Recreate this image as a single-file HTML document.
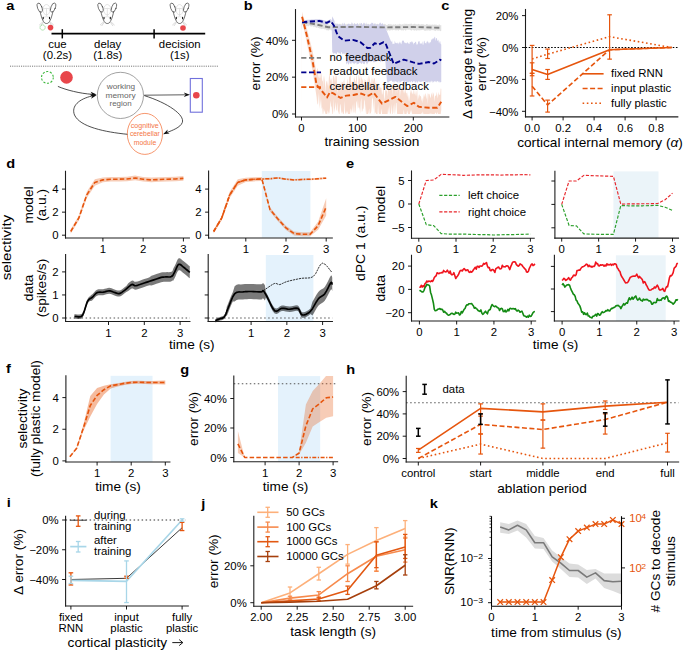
<!DOCTYPE html>
<html><head><meta charset="utf-8"><style>
html,body{margin:0;padding:0;background:#fff;width:685px;height:650px;overflow:hidden}
svg{display:block}
text{font-family:"Liberation Sans",sans-serif}
</style></head><body>
<svg width="685" height="650" viewBox="0 0 685 650">
<rect width="685" height="650" fill="#fff"/>
<text transform="translate(6.2,10.2) scale(1.14,1)" font-size="12.8" font-weight="bold" fill="#000">a</text>
<defs><g id="mouse" fill="none" stroke-linecap="round">
<ellipse cx="0" cy="9.5" rx="3.6" ry="5.2" stroke="#c8c8c8" stroke-width="0.5"/>
<path d="M-3.4,8.6 Q0,7.6 3.4,8.6 M0,8.6 L0,15.5 M-2,16.8 Q0,16 2,16.8" stroke="#c8c8c8" stroke-width="0.5"/>
<ellipse cx="-6.8" cy="7.4" rx="2.2" ry="4.8" transform="rotate(-20 -6.8 7.4)" stroke="#3a3a3a" stroke-width="0.65"/>
<ellipse cx="6.6" cy="7.4" rx="2.2" ry="4.8" transform="rotate(20 6.6 7.4)" stroke="#3a3a3a" stroke-width="0.65"/>
<path d="M-6.4,11.6 C-5.6,14.5 -5,17.5 -3.8,19.8 C-2.6,22.6 -1.4,23.3 0,23.3 C1.4,23.3 2.6,22.6 3.8,19.8 C5,17.5 5.6,14.5 6.4,11.6" stroke="#333" stroke-width="0.7"/>
<path d="M-3.3,17 l0,1.5 M3,17 l0,1.5" stroke="#111" stroke-width="1.1"/>
<path d="M-3.5,21.5 l-3.5,3.2 M-3,22 l-2.5,3.5 M3.5,21.5 l3.5,3.2 M3,22 l2.5,3.5" stroke="#c0c0c0" stroke-width="0.6"/>
</g></defs>
<use href="#mouse" x="46.5" y="0.2"/>
<use href="#mouse" x="107.3" y="0.2"/>
<use href="#mouse" x="179.6" y="0.2"/>
<circle cx="42.6" cy="27.5" r="2.6" fill="none" stroke="#4cbb4c" stroke-width="0.7" stroke-dasharray="1.1 0.9"/>
<circle cx="50.5" cy="27.6" r="2.8" fill="#e8464b"/>
<circle cx="183" cy="28" r="2.8" fill="#e8464b"/>
<line x1="51.50" y1="33.60" x2="205.20" y2="33.60" stroke="#000" stroke-width="1.7" />
<line x1="62.30" y1="29.20" x2="62.30" y2="38.40" stroke="#000" stroke-width="1.5" />
<line x1="154.10" y1="29.20" x2="154.10" y2="38.40" stroke="#000" stroke-width="1.5" />
<text transform="translate(57.40,48.00) scale(1.09,1)" font-size="10.45" text-anchor="middle" fill="#000" font-weight="normal" >cue</text>
<text transform="translate(57.40,59.20) scale(1.09,1)" font-size="10.45" text-anchor="middle" fill="#000" font-weight="normal" >(0.2s)</text>
<text transform="translate(107.70,48.00) scale(1.09,1)" font-size="10.45" text-anchor="middle" fill="#000" font-weight="normal" >delay</text>
<text transform="translate(107.70,59.20) scale(1.09,1)" font-size="10.45" text-anchor="middle" fill="#000" font-weight="normal" >(1.8s)</text>
<text transform="translate(179.70,48.00) scale(1.09,1)" font-size="10.45" text-anchor="middle" fill="#000" font-weight="normal" >decision</text>
<text transform="translate(179.70,59.20) scale(1.09,1)" font-size="10.45" text-anchor="middle" fill="#000" font-weight="normal" >(1s)</text>
<line x1="10.00" y1="66.20" x2="218.00" y2="66.20" stroke="#666" stroke-width="0.9" stroke-dasharray="1.1 1.1" />
<circle cx="47.4" cy="77.4" r="5.9" fill="none" stroke="#3cb83c" stroke-width="1.1" stroke-dasharray="2.1 1.6"/>
<circle cx="66.5" cy="77.4" r="6.3" fill="#e8464b"/>
<circle cx="120.4" cy="95.4" r="23.1" fill="none" stroke="#8a8a8a" stroke-width="0.8"/>
<text transform="translate(121.00,89.10)" font-size="7.94" text-anchor="middle" fill="#666" font-weight="normal"  textLength="28.3" lengthAdjust="spacingAndGlyphs">working</text>
<text transform="translate(120.60,97.80)" font-size="7.94" text-anchor="middle" fill="#666" font-weight="normal"  textLength="30.2" lengthAdjust="spacingAndGlyphs">memory</text>
<text transform="translate(120.60,106.10)" font-size="7.94" text-anchor="middle" fill="#666" font-weight="normal"  textLength="22.1" lengthAdjust="spacingAndGlyphs">region</text>
<ellipse cx="144.9" cy="133.9" rx="17.6" ry="20.5" fill="#fff" stroke="#f58a5c" stroke-width="0.9"/>
<text transform="translate(144.80,127.90)" font-size="7.52" text-anchor="middle" fill="#f47646" font-weight="normal"  textLength="28" lengthAdjust="spacingAndGlyphs">cognitive</text>
<text transform="translate(144.80,135.90)" font-size="7.52" text-anchor="middle" fill="#f47646" font-weight="normal"  textLength="29.8" lengthAdjust="spacingAndGlyphs">cerebellar</text>
<text transform="translate(145.00,144.50)" font-size="7.52" text-anchor="middle" fill="#f47646" font-weight="normal"  textLength="22.5" lengthAdjust="spacingAndGlyphs">module</text>
<rect x="190.3" y="78.5" width="12" height="33.7" fill="none" stroke="#7070dc" stroke-width="1.1"/>
<circle cx="196.3" cy="95.3" r="3.3" fill="#e8464b"/>
<path d="M57.9,86.4 C66,90 80,93.5 92,94.3" fill="none" stroke="#222" stroke-width="0.8"/>
<path d="M96.60,94.60 L90.20,96.27 L92.16,94.16 L90.66,91.69 Z" fill="#111"/>
<path d="M144.2,95.2 L185,94.8" fill="none" stroke="#333" stroke-width="0.8"/>
<path d="M190.00,94.80 L183.80,97.10 L185.54,94.80 L183.80,92.50 Z" fill="#111"/>
<path d="M144.3,95.6 C168,103 185,115 182.3,122.5 C180.5,127.5 172,130.5 167,132.5" fill="none" stroke="#222" stroke-width="0.8"/>
<path d="M163.10,134.20 L167.66,129.41 L167.11,132.24 L169.68,133.54 Z" fill="#111"/>
<path d="M127.4,134.3 C105,132 80,127 74.5,115 C71,106 79,99 92,96" fill="none" stroke="#222" stroke-width="0.8"/>
<path d="M96.60,95.20 L91.06,98.80 L92.24,96.18 L90.05,94.32 Z" fill="#111"/>
<text transform="translate(243.8,10.2) scale(1.14,1)" font-size="12.8" font-weight="bold" fill="#000">b</text>
<line x1="295.50" y1="9.60" x2="295.50" y2="117.00" stroke="#1e1e1e" stroke-width="1.1" stroke-linecap="square"/>
<line x1="295.50" y1="117.00" x2="448.80" y2="117.00" stroke="#1e1e1e" stroke-width="1.1" stroke-linecap="square"/>
<line x1="292.00" y1="114.00" x2="295.50" y2="114.00" stroke="#000" stroke-width="0.9" />
<text transform="translate(288.50,118.20) scale(1.09,1)" font-size="10.45" text-anchor="end" fill="#000" font-weight="normal" >0%</text>
<line x1="292.00" y1="77.15" x2="295.50" y2="77.15" stroke="#000" stroke-width="0.9" />
<text transform="translate(288.50,81.35) scale(1.09,1)" font-size="10.45" text-anchor="end" fill="#000" font-weight="normal" >20%</text>
<line x1="292.00" y1="40.30" x2="295.50" y2="40.30" stroke="#000" stroke-width="0.9" />
<text transform="translate(288.50,44.50) scale(1.09,1)" font-size="10.45" text-anchor="end" fill="#000" font-weight="normal" >40%</text>
<line x1="301.50" y1="117.00" x2="301.50" y2="120.50" stroke="#000" stroke-width="0.9" />
<text transform="translate(301.50,132.00) scale(1.09,1)" font-size="10.45" text-anchor="middle" fill="#000" font-weight="normal" >0</text>
<line x1="357.40" y1="117.00" x2="357.40" y2="120.50" stroke="#000" stroke-width="0.9" />
<text transform="translate(357.40,132.00) scale(1.09,1)" font-size="10.45" text-anchor="middle" fill="#000" font-weight="normal" >100</text>
<line x1="413.30" y1="117.00" x2="413.30" y2="120.50" stroke="#000" stroke-width="0.9" />
<text transform="translate(413.30,132.00) scale(1.09,1)" font-size="10.45" text-anchor="middle" fill="#000" font-weight="normal" >200</text>
<text transform="translate(260.00,63.50) rotate(-90) scale(1.09,1)" font-size="12.54" text-anchor="middle" fill="#000" font-weight="normal" >error (%)</text>
<text transform="translate(371.90,146.00) scale(1.09,1)" font-size="12.54" text-anchor="middle" fill="#000" font-weight="normal" >training session</text>
<polygon points="301.50,25.09 302.06,19.57 302.62,19.59 303.18,19.23 303.74,19.40 304.30,19.81 304.85,20.14 305.41,20.01 305.97,20.39 306.53,19.83 307.09,19.68 307.65,20.25 308.21,20.77 308.77,20.70 309.33,20.49 309.88,20.23 310.44,20.04 311.00,20.71 311.56,20.17 312.12,20.51 312.68,20.87 313.24,21.08 313.80,21.03 314.36,20.85 314.92,21.39 315.48,21.11 316.03,21.58 316.59,22.02 317.15,21.72 317.71,21.61 318.27,22.65 318.83,22.26 319.39,22.38 319.95,21.84 320.51,21.88 321.06,22.83 321.62,22.18 322.18,22.47 322.74,23.37 323.30,23.20 323.86,23.83 324.42,22.93 324.98,23.28 325.54,23.07 326.10,23.34 326.65,23.65 327.21,23.68 327.77,24.05 328.33,24.86 328.89,24.13 329.45,24.99 330.01,24.77 330.57,23.84 331.13,24.91 331.69,24.83 332.25,24.81 332.80,23.65 333.36,24.68 333.92,24.90 334.48,23.69 335.04,24.74 335.60,23.67 336.16,23.92 336.72,23.67 337.28,23.49 337.83,24.03 338.39,23.70 338.95,24.82 339.51,23.73 340.07,24.10 340.63,23.80 341.19,24.69 341.75,23.73 342.31,23.45 342.87,24.73 343.43,24.34 343.98,23.98 344.54,23.58 345.10,24.44 345.66,24.52 346.22,24.41 346.78,23.87 347.34,23.66 347.90,24.18 348.46,24.21 349.01,24.16 349.57,24.22 350.13,24.11 350.69,24.60 351.25,23.98 351.81,23.28 352.37,24.09 352.93,23.59 353.49,24.45 354.05,23.66 354.61,23.56 355.16,23.67 355.72,23.90 356.28,23.94 356.84,23.70 357.40,23.32 357.96,24.43 358.52,24.52 359.08,23.57 359.64,23.33 360.19,23.93 360.75,24.05 361.31,23.66 361.87,24.45 362.43,24.34 362.99,24.46 363.55,23.90 364.11,24.31 364.67,24.44 365.23,23.77 365.79,23.40 366.34,24.38 366.90,23.79 367.46,24.23 368.02,23.59 368.58,24.00 369.14,24.48 369.70,24.56 370.26,24.86 370.82,24.20 371.38,24.35 371.93,24.67 372.49,24.41 373.05,24.47 373.61,23.82 374.17,24.76 374.73,23.52 375.29,24.29 375.85,24.12 376.41,24.32 376.97,23.80 377.52,23.83 378.08,24.23 378.64,24.35 379.20,24.01 379.76,23.82 380.32,24.50 380.88,24.02 381.44,23.70 382.00,24.44 382.56,24.80 383.11,24.80 383.67,24.10 384.23,24.17 384.79,23.77 385.35,23.93 385.91,24.83 386.47,24.90 387.03,24.79 387.59,24.89 388.14,24.12 388.70,23.88 389.26,23.81 389.82,24.76 390.38,23.85 390.94,24.66 391.50,24.49 392.06,24.03 392.62,24.97 393.18,24.95 393.74,23.85 394.29,24.64 394.85,24.54 395.41,24.20 395.97,24.06 396.53,25.03 397.09,24.54 397.65,24.39 398.21,24.31 398.77,24.70 399.32,24.14 399.88,23.59 400.44,24.42 401.00,24.18 401.56,24.80 402.12,24.57 402.68,23.98 403.24,24.79 403.80,23.64 404.36,23.60 404.92,24.79 405.47,23.54 406.03,24.37 406.59,23.77 407.15,23.79 407.71,24.46 408.27,23.89 408.83,23.92 409.39,23.69 409.95,24.48 410.50,23.75 411.06,23.44 411.62,23.85 412.18,24.05 412.74,24.66 413.30,24.10 413.86,24.32 414.42,23.79 414.98,23.87 415.54,24.05 416.10,24.63 416.65,23.96 417.21,24.00 417.77,24.68 418.33,23.64 418.89,24.00 419.45,24.80 420.01,23.63 420.57,24.81 421.13,24.54 421.69,23.98 422.24,24.18 422.80,24.26 423.36,24.13 423.92,24.43 424.48,24.66 425.04,24.87 425.60,25.05 426.16,24.11 426.72,24.06 427.27,24.39 427.83,24.12 428.39,24.69 428.95,24.84 429.51,24.69 430.07,23.98 430.63,25.22 431.19,24.55 431.75,24.95 432.31,24.19 432.87,24.82 433.42,24.86 433.98,24.77 434.54,24.58 435.10,24.26 435.66,24.89 436.22,24.18 436.78,25.28 437.34,25.06 437.90,25.32 438.46,25.32 439.01,24.35 439.57,24.44 440.13,25.26 440.69,25.27 441.25,24.95 441.25,30.74 440.69,30.93 440.13,31.31 439.57,30.34 439.01,30.71 438.46,30.59 437.90,31.06 437.34,30.15 436.78,30.46 436.22,30.09 435.66,31.15 435.10,30.64 434.54,30.39 433.98,30.75 433.42,29.96 432.87,30.11 432.31,30.27 431.75,30.30 431.19,29.97 430.63,30.85 430.07,30.48 429.51,31.02 428.95,29.82 428.39,30.82 427.83,29.68 427.27,31.05 426.72,30.91 426.16,29.84 425.60,30.93 425.04,30.77 424.48,30.74 423.92,30.21 423.36,29.82 422.80,30.08 422.24,29.80 421.69,30.32 421.13,30.10 420.57,30.59 420.01,29.47 419.45,30.54 418.89,30.85 418.33,29.99 417.77,29.89 417.21,30.60 416.65,30.74 416.10,30.44 415.54,29.82 414.98,30.64 414.42,30.59 413.86,29.90 413.30,30.56 412.74,29.32 412.18,30.15 411.62,30.63 411.06,30.20 410.50,30.26 409.95,29.68 409.39,29.45 408.83,30.11 408.27,29.50 407.71,29.50 407.15,29.85 406.59,29.56 406.03,30.47 405.47,30.68 404.92,29.83 404.36,29.72 403.80,30.16 403.24,30.82 402.68,29.81 402.12,30.64 401.56,30.16 401.00,30.31 400.44,29.84 399.88,30.00 399.32,29.84 398.77,30.66 398.21,30.52 397.65,30.22 397.09,29.78 396.53,30.60 395.97,30.34 395.41,30.42 394.85,29.60 394.29,30.15 393.74,29.75 393.18,29.90 392.62,29.90 392.06,30.74 391.50,29.64 390.94,30.01 390.38,30.53 389.82,30.45 389.26,30.87 388.70,29.79 388.14,30.62 387.59,30.93 387.03,29.67 386.47,30.18 385.91,30.63 385.35,31.04 384.79,29.69 384.23,29.71 383.67,29.87 383.11,30.34 382.56,29.60 382.00,30.73 381.44,29.68 380.88,30.03 380.32,30.91 379.76,30.92 379.20,30.71 378.64,30.82 378.08,30.90 377.52,30.93 376.97,30.05 376.41,29.48 375.85,29.89 375.29,30.75 374.73,30.37 374.17,29.94 373.61,29.65 373.05,30.45 372.49,30.46 371.93,30.38 371.38,29.44 370.82,30.11 370.26,29.63 369.70,30.37 369.14,29.69 368.58,30.68 368.02,30.56 367.46,30.22 366.90,29.81 366.34,30.47 365.79,30.00 365.23,30.55 364.67,30.36 364.11,29.24 363.55,30.62 362.99,30.06 362.43,30.04 361.87,30.55 361.31,29.58 360.75,30.00 360.19,29.93 359.64,30.55 359.08,30.48 358.52,29.83 357.96,30.30 357.40,30.37 356.84,30.50 356.28,30.30 355.72,29.96 355.16,30.31 354.61,30.26 354.05,30.29 353.49,29.91 352.93,30.38 352.37,29.44 351.81,30.30 351.25,30.61 350.69,30.29 350.13,29.75 349.57,29.85 349.01,30.09 348.46,30.11 347.90,29.59 347.34,29.34 346.78,30.40 346.22,30.08 345.66,29.57 345.10,30.01 344.54,30.25 343.98,29.75 343.43,30.09 342.87,29.93 342.31,29.70 341.75,30.00 341.19,30.50 340.63,30.45 340.07,30.64 339.51,30.70 338.95,30.61 338.39,30.06 337.83,29.67 337.28,30.15 336.72,29.53 336.16,29.43 335.60,29.62 335.04,30.31 334.48,29.73 333.92,29.78 333.36,29.47 332.80,29.96 332.25,29.59 331.69,30.66 331.13,29.84 330.57,29.59 330.01,30.41 329.45,29.52 328.89,30.10 328.33,30.79 327.77,30.43 327.21,30.12 326.65,30.45 326.10,29.48 325.54,29.11 324.98,29.95 324.42,28.71 323.86,28.49 323.30,28.94 322.74,29.00 322.18,28.58 321.62,28.67 321.06,29.22 320.51,28.37 319.95,28.74 319.39,28.22 318.83,28.01 318.27,27.93 317.71,27.55 317.15,27.27 316.59,28.27 316.03,27.08 315.48,27.14 314.92,27.19 314.36,26.51 313.80,27.21 313.24,26.52 312.68,25.96 312.12,26.39 311.56,26.39 311.00,26.36 310.44,26.53 309.88,25.62 309.33,25.62 308.77,25.68 308.21,26.74 307.65,25.55 307.09,26.26 306.53,26.25 305.97,25.63 305.41,25.62 304.85,26.03 304.30,25.65 303.74,25.95 303.18,25.21 302.62,24.90 302.06,24.73 301.50,30.36" fill="#c8c8c8" fill-opacity="0.55" stroke="none"/>
<polygon points="301.50,58.73 302.06,20.40 302.62,20.35 303.18,20.30 303.74,20.24 304.30,20.19 304.85,20.14 305.41,20.09 305.97,20.03 306.53,19.98 307.09,19.93 307.65,19.87 308.21,19.82 308.77,19.77 309.33,19.72 309.88,19.66 310.44,19.63 311.00,19.60 311.56,19.57 312.12,19.53 312.68,19.50 313.24,19.47 313.80,19.44 314.36,19.40 314.92,19.37 315.48,19.34 316.03,19.31 316.59,19.27 317.15,19.24 317.71,19.21 318.27,19.18 318.83,19.14 319.39,19.11 319.95,19.25 320.51,19.39 321.06,19.54 321.62,19.68 322.18,19.82 322.74,19.96 323.30,20.10 323.86,20.25 324.42,20.39 324.98,20.53 325.54,20.67 326.10,20.81 326.65,20.95 327.21,20.69 327.77,20.43 328.33,20.16 328.89,19.90 329.45,19.64 330.01,19.37 330.57,19.11 331.13,19.88 331.69,20.65 332.25,16.35 332.80,17.45 333.36,18.56 333.92,19.66 334.48,20.77 335.04,26.29 335.60,23.24 336.16,23.14 336.72,25.38 337.28,24.15 337.83,23.76 338.39,24.71 338.95,26.01 339.51,23.38 340.07,24.54 340.63,25.25 341.19,25.19 341.75,25.56 342.31,22.43 342.87,24.74 343.43,26.37 343.98,22.31 344.54,23.73 345.10,23.82 345.66,25.55 346.22,26.10 346.78,26.40 347.34,24.19 347.90,24.55 348.46,23.54 349.01,23.81 349.57,23.68 350.13,26.23 350.69,23.69 351.25,25.25 351.81,21.88 352.37,23.23 352.93,25.39 353.49,26.28 354.05,23.38 354.61,22.91 355.16,24.88 355.72,23.79 356.28,24.63 356.84,23.84 357.40,22.80 357.96,24.48 358.52,24.44 359.08,26.07 359.64,26.01 360.19,26.36 360.75,22.76 361.31,23.21 361.87,23.08 362.43,25.42 362.99,24.63 363.55,22.52 364.11,23.41 364.67,22.60 365.23,26.25 365.79,25.69 366.34,21.94 366.90,26.43 367.46,25.52 368.02,23.66 368.58,24.85 369.14,23.89 369.70,26.08 370.26,23.28 370.82,24.40 371.38,22.96 371.93,22.39 372.49,23.19 373.05,22.43 373.61,26.02 374.17,24.05 374.73,23.58 375.29,22.89 375.85,26.42 376.41,24.38 376.97,24.69 377.52,24.26 378.08,24.01 378.64,26.35 379.20,22.39 379.76,24.07 380.32,22.29 380.88,23.52 381.44,25.10 382.00,23.16 382.56,23.26 383.11,24.22 383.67,26.24 384.23,24.76 384.79,25.42 385.35,27.40 385.91,28.78 386.47,30.17 387.03,31.55 387.59,32.93 388.14,34.31 388.70,35.69 389.26,37.08 389.82,38.46 390.38,39.84 390.94,41.22 391.50,42.11 392.06,40.36 392.62,44.25 393.18,43.70 393.74,43.87 394.29,44.23 394.85,40.57 395.41,43.08 395.97,42.65 396.53,43.09 397.09,43.68 397.65,42.43 398.21,42.78 398.77,44.62 399.32,41.18 399.88,43.61 400.44,42.05 401.00,44.46 401.56,43.39 402.12,40.41 402.68,40.73 403.24,40.85 403.80,40.44 404.36,43.32 404.92,42.05 405.47,43.19 406.03,42.96 406.59,43.50 407.15,42.02 407.71,42.78 408.27,42.94 408.83,43.97 409.39,43.89 409.95,41.81 410.50,41.96 411.06,42.75 411.62,41.35 412.18,41.48 412.74,42.33 413.30,44.64 413.86,42.64 414.42,43.29 414.98,42.45 415.54,41.55 416.10,42.36 416.65,44.67 417.21,44.54 417.77,44.00 418.33,41.08 418.89,41.85 419.45,40.79 420.01,44.13 420.57,43.13 421.13,43.30 421.69,43.92 422.24,40.88 422.80,44.68 423.36,44.63 423.92,40.89 424.48,40.71 425.04,43.51 425.60,42.72 426.16,43.69 426.72,41.40 427.27,42.03 427.83,40.55 428.39,43.77 428.95,41.53 429.51,43.74 430.07,41.70 430.63,42.82 431.19,40.33 431.75,39.14 432.31,38.22 432.87,39.66 433.42,37.85 433.98,39.09 434.54,36.77 435.10,37.08 435.66,41.05 436.22,37.92 436.78,38.07 437.34,40.53 437.90,40.98 438.46,39.47 439.01,43.85 439.57,41.76 440.13,40.81 440.69,44.02 441.25,44.50 441.25,82.00 440.69,82.28 440.13,82.31 439.57,82.53 439.01,80.84 438.46,82.60 437.90,81.32 437.34,80.64 436.78,82.57 436.22,81.07 435.66,82.13 435.10,80.56 434.54,81.61 433.98,81.42 433.42,82.02 432.87,82.89 432.31,81.20 431.75,80.47 431.19,81.95 430.63,82.52 430.07,80.72 429.51,82.50 428.95,82.80 428.39,81.04 427.83,82.98 427.27,81.64 426.72,82.15 426.16,82.19 425.60,81.29 425.04,82.68 424.48,81.10 423.92,81.30 423.36,81.81 422.80,81.28 422.24,81.57 421.69,81.47 421.13,82.05 420.57,82.35 420.01,81.27 419.45,81.74 418.89,82.03 418.33,80.48 417.77,82.80 417.21,82.66 416.65,80.67 416.10,82.86 415.54,82.31 414.98,82.79 414.42,80.90 413.86,80.81 413.30,81.62 412.74,82.18 412.18,82.50 411.62,80.77 411.06,81.48 410.50,82.17 409.95,82.69 409.39,81.21 408.83,81.64 408.27,82.21 407.71,82.57 407.15,81.58 406.59,81.85 406.03,82.51 405.47,80.89 404.92,81.78 404.36,82.41 403.80,82.80 403.24,80.67 402.68,80.65 402.12,81.02 401.56,80.98 401.00,82.34 400.44,82.48 399.88,80.85 399.32,82.90 398.77,82.78 398.21,80.61 397.65,82.54 397.09,82.38 396.53,81.41 395.97,81.70 395.41,81.13 394.85,80.53 394.29,82.74 393.74,82.48 393.18,81.03 392.62,82.15 392.06,80.90 391.50,80.53 390.94,80.59 390.38,81.03 389.82,81.05 389.26,81.66 388.70,82.13 388.14,82.58 387.59,82.56 387.03,82.00 386.47,75.86 385.91,68.49 385.35,61.12 384.79,60.17 384.23,60.00 383.67,60.82 383.11,60.72 382.56,61.26 382.00,62.29 381.44,60.46 380.88,61.00 380.32,62.40 379.76,61.01 379.20,60.99 378.64,59.67 378.08,59.82 377.52,59.80 376.97,62.08 376.41,60.95 375.85,62.08 375.29,61.94 374.73,62.35 374.17,62.08 373.61,62.45 373.05,61.14 372.49,60.32 371.93,62.10 371.38,61.47 370.82,60.52 370.26,62.40 369.70,60.96 369.14,62.19 368.58,62.18 368.02,61.96 367.46,63.66 366.90,64.63 366.34,63.02 365.79,62.01 365.23,61.93 364.67,64.04 364.11,64.30 363.55,63.72 362.99,63.71 362.43,61.96 361.87,63.55 361.31,64.07 360.75,63.34 360.19,62.50 359.64,62.49 359.08,62.95 358.52,63.85 357.96,64.18 357.40,63.84 356.84,64.75 356.28,61.90 355.72,63.47 355.16,62.26 354.61,64.55 354.05,63.07 353.49,63.73 352.93,63.00 352.37,62.00 351.81,64.45 351.25,61.87 350.69,64.37 350.13,63.17 349.57,61.98 349.01,64.30 348.46,64.53 347.90,63.63 347.34,62.09 346.78,64.56 346.22,63.21 345.66,54.65 345.10,52.03 344.54,54.31 343.98,54.34 343.43,53.42 342.87,53.22 342.31,54.51 341.75,52.06 341.19,52.29 340.63,54.05 340.07,54.41 339.51,52.53 338.95,53.81 338.39,52.47 337.83,52.39 337.28,51.95 336.72,54.34 336.16,54.21 335.60,53.34 335.04,53.55 334.48,52.85 333.92,54.43 333.36,53.19 332.80,52.12 332.25,53.57 331.69,24.33 331.13,23.56 330.57,22.80 330.01,23.06 329.45,23.32 328.89,23.59 328.33,23.85 327.77,24.11 327.21,24.38 326.65,24.64 326.10,24.50 325.54,24.36 324.98,24.21 324.42,24.07 323.86,23.93 323.30,23.79 322.74,23.65 322.18,23.50 321.62,23.36 321.06,23.22 320.51,23.08 319.95,22.94 319.39,22.80 318.83,22.83 318.27,22.86 317.71,22.89 317.15,22.93 316.59,22.96 316.03,22.99 315.48,23.02 314.92,23.06 314.36,23.09 313.80,23.12 313.24,23.15 312.68,23.19 312.12,23.22 311.56,23.25 311.00,23.28 310.44,23.32 309.88,23.35 309.33,23.40 308.77,23.45 308.21,23.51 307.65,23.56 307.09,23.61 306.53,23.66 305.97,23.72 305.41,23.77 304.85,23.82 304.30,23.88 303.74,23.93 303.18,23.98 302.62,24.03 302.06,24.09 301.50,62.41" fill="#d0d0ea" fill-opacity="1.0" stroke="none"/>
<polygon points="301.50,97.23 302.06,11.83 302.62,13.77 303.18,15.70 303.74,17.64 304.30,19.57 304.85,21.51 305.41,23.44 305.97,25.38 306.53,27.31 307.09,29.25 307.65,31.44 308.21,33.63 308.77,35.82 309.33,38.02 309.88,40.21 310.44,42.40 311.00,44.60 311.56,46.79 312.12,48.98 312.68,51.44 313.24,54.52 313.80,57.60 314.36,60.68 314.92,63.76 315.48,66.84 316.03,69.92 316.59,73.00 317.15,68.82 317.71,68.26 318.27,75.00 318.83,77.43 319.39,78.31 319.95,72.55 320.51,78.78 321.06,71.73 321.62,75.37 322.18,81.76 322.74,80.57 323.30,75.15 323.86,89.02 324.42,75.16 324.98,81.38 325.54,93.17 326.10,81.56 326.65,80.94 327.21,86.12 327.77,80.37 328.33,88.82 328.89,77.44 329.45,72.95 330.01,77.43 330.57,81.28 331.13,77.95 331.69,80.30 332.25,89.22 332.80,78.64 333.36,76.10 333.92,75.71 334.48,78.44 335.04,82.16 335.60,75.02 336.16,76.51 336.72,75.68 337.28,93.48 337.83,89.56 338.39,83.76 338.95,85.66 339.51,87.54 340.07,79.66 340.63,91.91 341.19,80.82 341.75,84.86 342.31,81.97 342.87,82.18 343.43,79.83 343.98,90.19 344.54,76.10 345.10,89.71 345.66,86.38 346.22,82.06 346.78,91.29 347.34,78.28 347.90,80.85 348.46,90.91 349.01,77.53 349.57,76.61 350.13,75.93 350.69,75.37 351.25,82.53 351.81,85.06 352.37,80.78 352.93,83.58 353.49,82.93 354.05,76.33 354.61,78.92 355.16,80.23 355.72,83.33 356.28,74.50 356.84,77.19 357.40,88.85 357.96,89.07 358.52,74.68 359.08,75.34 359.64,79.83 360.19,74.83 360.75,88.49 361.31,76.13 361.87,78.04 362.43,81.23 362.99,78.25 363.55,89.95 364.11,84.98 364.67,78.63 365.23,80.11 365.79,80.49 366.34,86.06 366.90,84.81 367.46,77.20 368.02,84.08 368.58,76.32 369.14,75.68 369.70,78.92 370.26,83.59 370.82,82.77 371.38,76.54 371.93,89.53 372.49,80.07 373.05,77.33 373.61,82.23 374.17,78.47 374.73,77.80 375.29,82.83 375.85,83.43 376.41,89.92 376.97,79.76 377.52,90.38 378.08,82.33 378.64,84.71 379.20,85.32 379.76,87.81 380.32,87.46 380.88,87.83 381.44,87.70 382.00,95.02 382.56,93.41 383.11,89.44 383.67,89.72 384.23,100.82 384.79,96.89 385.35,89.35 385.91,91.02 386.47,90.98 387.03,89.21 387.59,96.52 388.14,88.03 388.70,85.84 389.26,92.19 389.82,84.84 390.38,91.03 390.94,85.58 391.50,86.18 392.06,83.96 392.62,95.47 393.18,83.69 393.74,83.53 394.29,89.36 394.85,85.09 395.41,83.69 395.97,94.56 396.53,83.71 397.09,93.78 397.65,83.60 398.21,87.50 398.77,87.75 399.32,84.49 399.88,97.95 400.44,91.40 401.00,89.21 401.56,86.96 402.12,86.88 402.68,88.37 403.24,93.46 403.80,87.44 404.36,94.10 404.92,90.37 405.47,90.11 406.03,93.29 406.59,92.40 407.15,97.50 407.71,91.68 408.27,101.79 408.83,94.22 409.39,101.95 409.95,95.05 410.50,89.57 411.06,93.66 411.62,89.57 412.18,93.16 412.74,94.41 413.30,88.18 413.86,94.53 414.42,93.93 414.98,89.69 415.54,94.05 416.10,96.45 416.65,91.52 417.21,89.41 417.77,101.28 418.33,94.14 418.89,99.17 419.45,93.92 420.01,95.65 420.57,96.07 421.13,97.01 421.69,101.57 422.24,97.44 422.80,103.34 423.36,97.73 423.92,94.09 424.48,97.17 425.04,93.35 425.60,94.12 426.16,99.27 426.72,96.42 427.27,92.56 427.83,104.86 428.39,94.15 428.95,93.45 429.51,94.32 430.07,96.55 430.63,98.62 431.19,94.80 431.75,92.46 432.31,97.35 432.87,91.90 433.42,93.32 433.98,95.10 434.54,102.03 435.10,95.05 435.66,96.26 436.22,95.18 436.78,91.85 437.34,95.82 437.90,98.51 438.46,91.64 439.01,94.28 439.57,94.78 440.13,95.26 440.69,88.58 441.25,88.77 441.25,109.91 440.69,114.00 440.13,114.00 439.57,114.00 439.01,114.00 438.46,114.00 437.90,114.00 437.34,112.05 436.78,114.00 436.22,114.00 435.66,112.34 435.10,113.61 434.54,114.00 433.98,114.00 433.42,114.00 432.87,114.00 432.31,114.00 431.75,113.42 431.19,114.00 430.63,114.00 430.07,113.03 429.51,114.00 428.95,114.00 428.39,114.00 427.83,114.00 427.27,114.00 426.72,114.00 426.16,114.00 425.60,114.00 425.04,114.00 424.48,114.00 423.92,114.00 423.36,114.00 422.80,111.29 422.24,114.00 421.69,113.03 421.13,114.00 420.57,114.00 420.01,114.00 419.45,114.00 418.89,114.00 418.33,114.00 417.77,114.00 417.21,114.00 416.65,114.00 416.10,114.00 415.54,114.00 414.98,114.00 414.42,114.00 413.86,114.00 413.30,114.00 412.74,114.00 412.18,114.00 411.62,109.43 411.06,114.00 410.50,110.01 409.95,114.00 409.39,114.00 408.83,114.00 408.27,114.00 407.71,113.01 407.15,110.27 406.59,114.00 406.03,114.00 405.47,114.00 404.92,114.00 404.36,114.00 403.80,109.32 403.24,114.00 402.68,114.00 402.12,114.00 401.56,114.00 401.00,114.00 400.44,114.00 399.88,114.00 399.32,114.00 398.77,114.00 398.21,114.00 397.65,114.00 397.09,113.64 396.53,103.13 395.97,102.78 395.41,114.00 394.85,102.72 394.29,114.00 393.74,112.63 393.18,104.44 392.62,114.00 392.06,114.00 391.50,103.66 390.94,112.97 390.38,114.00 389.82,113.84 389.26,104.51 388.70,114.00 388.14,106.95 387.59,114.00 387.03,114.00 386.47,114.00 385.91,114.00 385.35,114.00 384.79,114.00 384.23,114.00 383.67,114.00 383.11,114.00 382.56,114.00 382.00,114.00 381.44,108.33 380.88,114.00 380.32,114.00 379.76,114.00 379.20,114.00 378.64,112.77 378.08,103.46 377.52,114.00 376.97,114.00 376.41,114.00 375.85,113.54 375.29,111.91 374.73,114.00 374.17,98.38 373.61,111.31 373.05,100.32 372.49,97.12 371.93,100.28 371.38,110.84 370.82,113.30 370.26,113.42 369.70,114.00 369.14,108.27 368.58,112.79 368.02,114.00 367.46,114.00 366.90,114.00 366.34,114.00 365.79,103.76 365.23,114.00 364.67,99.32 364.11,101.26 363.55,109.61 362.99,108.08 362.43,110.98 361.87,112.06 361.31,97.75 360.75,102.21 360.19,114.00 359.64,108.89 359.08,107.08 358.52,108.17 357.96,99.31 357.40,109.61 356.84,100.65 356.28,102.50 355.72,110.38 355.16,114.00 354.61,111.83 354.05,102.33 353.49,111.48 352.93,114.00 352.37,104.08 351.81,114.00 351.25,109.70 350.69,108.20 350.13,114.00 349.57,114.00 349.01,114.00 348.46,114.00 347.90,114.00 347.34,111.00 346.78,114.00 346.22,110.97 345.66,113.61 345.10,113.90 344.54,100.40 343.98,113.36 343.43,114.00 342.87,114.00 342.31,111.24 341.75,113.65 341.19,111.09 340.63,105.59 340.07,103.87 339.51,114.00 338.95,114.00 338.39,111.88 337.83,110.49 337.28,102.00 336.72,109.86 336.16,110.88 335.60,101.75 335.04,107.44 334.48,110.37 333.92,113.26 333.36,98.22 332.80,114.00 332.25,114.00 331.69,107.50 331.13,105.98 330.57,100.43 330.01,107.70 329.45,112.53 328.89,114.00 328.33,112.20 327.77,110.22 327.21,114.00 326.65,114.00 326.10,114.00 325.54,114.00 324.98,112.03 324.42,111.12 323.86,108.62 323.30,113.76 322.74,114.00 322.18,106.88 321.62,108.94 321.06,98.79 320.51,106.25 319.95,94.08 319.39,109.05 318.83,102.87 318.27,92.56 317.71,104.80 317.15,103.85 316.59,97.14 316.03,93.51 315.48,89.87 314.92,86.24 314.36,82.61 313.80,78.97 313.24,75.34 312.68,71.71 312.12,68.70 311.56,65.95 311.00,63.20 310.44,60.46 309.88,57.71 309.33,54.97 308.77,52.22 308.21,49.48 307.65,46.73 307.09,43.98 306.53,41.50 305.97,39.01 305.41,36.52 304.85,34.04 304.30,31.55 303.74,29.06 303.18,26.57 302.62,24.09 302.06,21.60 301.50,106.45" fill="#f8dccf" fill-opacity="1.0" stroke="none"/>
<polyline points="302.06,22.24 312.68,23.72 328.33,27.22 357.40,26.85 385.35,27.40 413.30,27.03 441.25,27.77" fill="none" stroke="#7f7f7f" stroke-width="1.9" stroke-dasharray="5.2 2.6" stroke-linejoin="round" />
<polyline points="302.06,22.24 309.88,21.51 319.39,20.95 326.65,22.80 330.57,20.95 333.92,25.56 337.83,35.88 343.98,40.67 352.93,39.93 360.19,41.96 367.46,48.04 370.26,47.85 374.73,43.25 378.64,44.54 383.67,42.14 385.35,42.88 393.74,63.88 403.80,59.65 413.30,62.41 418.89,63.88 428.95,62.04 433.98,63.52 440.13,59.65 441.25,60.57" fill="none" stroke="#00008b" stroke-width="1.9" stroke-dasharray="5.2 2.6" stroke-linejoin="round" />
<polyline points="302.06,16.72 307.09,36.61 312.51,60.57 316.59,85.07 319.95,88.57 324.20,93.92 327.10,97.42 330.01,92.07 333.36,93.36 340.63,97.97 346.22,95.58 353.49,95.02 360.19,93.36 361.31,93.73 366.90,95.94 368.58,95.58 373.61,92.63 382.00,103.68 395.41,96.86 407.15,106.08 413.86,102.76 418.89,106.81 428.95,107.74 437.34,107.74 441.25,101.84" fill="none" stroke="#e6550d" stroke-width="1.9" stroke-dasharray="5.2 2.6" stroke-linejoin="round" />
<line x1="301.20" y1="57.90" x2="321.00" y2="57.90" stroke="#7f7f7f" stroke-width="1.9" stroke-dasharray="5.2 2.6" />
<line x1="301.20" y1="72.40" x2="321.00" y2="72.40" stroke="#00008b" stroke-width="1.9" stroke-dasharray="5.2 2.6" />
<line x1="301.20" y1="87.10" x2="321.00" y2="87.10" stroke="#e6550d" stroke-width="1.9" stroke-dasharray="5.2 2.6" />
<text transform="translate(329.50,61.10) scale(1.09,1)" font-size="10.45" text-anchor="start" fill="#000" font-weight="normal" >no feedback</text>
<text transform="translate(329.50,75.40) scale(1.09,1)" font-size="10.45" text-anchor="start" fill="#000" font-weight="normal" >readout feedback</text>
<text transform="translate(329.50,90.10) scale(1.09,1)" font-size="10.45" text-anchor="start" fill="#000" font-weight="normal" >cerebellar feedback</text>
<text transform="translate(441.2,10.2) scale(1.14,1)" font-size="12.8" font-weight="bold" fill="#000">c</text>
<line x1="525.50" y1="47.50" x2="678.40" y2="47.50" stroke="#000" stroke-width="1.2" stroke-dasharray="1.6 1.6" />
<line x1="525.50" y1="9.50" x2="525.50" y2="116.90" stroke="#1e1e1e" stroke-width="1.1" stroke-linecap="square"/>
<line x1="525.50" y1="116.90" x2="677.80" y2="116.90" stroke="#1e1e1e" stroke-width="1.1" stroke-linecap="square"/>
<line x1="522.00" y1="15.60" x2="525.50" y2="15.60" stroke="#000" stroke-width="0.9" />
<text transform="translate(518.50,19.80) scale(1.09,1)" font-size="10.45" text-anchor="end" fill="#000" font-weight="normal" >20%</text>
<line x1="522.00" y1="47.50" x2="525.50" y2="47.50" stroke="#000" stroke-width="0.9" />
<text transform="translate(518.50,51.70) scale(1.09,1)" font-size="10.45" text-anchor="end" fill="#000" font-weight="normal" >0%</text>
<line x1="522.00" y1="79.40" x2="525.50" y2="79.40" stroke="#000" stroke-width="0.9" />
<text transform="translate(518.50,83.60) scale(1.09,1)" font-size="10.45" text-anchor="end" fill="#000" font-weight="normal" >−20%</text>
<line x1="522.00" y1="111.30" x2="525.50" y2="111.30" stroke="#000" stroke-width="0.9" />
<text transform="translate(518.50,115.50) scale(1.09,1)" font-size="10.45" text-anchor="end" fill="#000" font-weight="normal" >−40%</text>
<line x1="532.10" y1="116.90" x2="532.10" y2="120.40" stroke="#000" stroke-width="0.9" />
<text transform="translate(532.10,131.90) scale(1.09,1)" font-size="10.45" text-anchor="middle" fill="#000" font-weight="normal" >0.0</text>
<line x1="563.10" y1="116.90" x2="563.10" y2="120.40" stroke="#000" stroke-width="0.9" />
<text transform="translate(563.10,131.90) scale(1.09,1)" font-size="10.45" text-anchor="middle" fill="#000" font-weight="normal" >0.2</text>
<line x1="594.10" y1="116.90" x2="594.10" y2="120.40" stroke="#000" stroke-width="0.9" />
<text transform="translate(594.10,131.90) scale(1.09,1)" font-size="10.45" text-anchor="middle" fill="#000" font-weight="normal" >0.4</text>
<line x1="625.10" y1="116.90" x2="625.10" y2="120.40" stroke="#000" stroke-width="0.9" />
<text transform="translate(625.10,131.90) scale(1.09,1)" font-size="10.45" text-anchor="middle" fill="#000" font-weight="normal" >0.6</text>
<line x1="656.10" y1="116.90" x2="656.10" y2="120.40" stroke="#000" stroke-width="0.9" />
<text transform="translate(656.10,131.90) scale(1.09,1)" font-size="10.45" text-anchor="middle" fill="#000" font-weight="normal" >0.8</text>
<text transform="translate(600.00,146.60) scale(1.09,1)" font-size="12.54" text-anchor="middle" fill="#000" font-weight="normal" >cortical internal memory (<tspan font-style="italic">α</tspan>)</text>
<text transform="translate(471.60,64.00) rotate(-90) scale(1.09,1)" font-size="12.54" text-anchor="middle" fill="#000" font-weight="normal" >Δ average training</text>
<text transform="translate(486.30,64.00) rotate(-90) scale(1.09,1)" font-size="12.54" text-anchor="middle" fill="#000" font-weight="normal" >error (%)</text>
<polyline points="532.10,69.51 547.60,74.61 609.60,49.73 671.60,47.50" fill="none" stroke="#e6550d" stroke-width="1.6" stroke-linejoin="round" />
<polyline points="532.10,86.26 547.60,104.92 609.60,49.73 671.60,47.50" fill="none" stroke="#e6550d" stroke-width="1.6" stroke-dasharray="5 2.5" stroke-linejoin="round" />
<polyline points="532.10,58.98 547.60,54.20 609.60,36.65 671.60,47.50" fill="none" stroke="#e6550d" stroke-width="1.6" stroke-dasharray="1.6 2.6" stroke-linejoin="round" />
<line x1="532.10" y1="45.43" x2="532.10" y2="73.34" stroke="#e6550d" stroke-width="1.2" />
<line x1="529.80" y1="45.43" x2="534.40" y2="45.43" stroke="#e6550d" stroke-width="1.2" />
<line x1="529.80" y1="73.34" x2="534.40" y2="73.34" stroke="#e6550d" stroke-width="1.2" />
<line x1="532.10" y1="62.81" x2="532.10" y2="75.73" stroke="#e6550d" stroke-width="1.2" />
<line x1="529.80" y1="62.81" x2="534.40" y2="62.81" stroke="#e6550d" stroke-width="1.2" />
<line x1="529.80" y1="75.73" x2="534.40" y2="75.73" stroke="#e6550d" stroke-width="1.2" />
<line x1="532.10" y1="73.34" x2="532.10" y2="95.99" stroke="#e6550d" stroke-width="1.2" />
<line x1="529.80" y1="73.34" x2="534.40" y2="73.34" stroke="#e6550d" stroke-width="1.2" />
<line x1="529.80" y1="95.99" x2="534.40" y2="95.99" stroke="#e6550d" stroke-width="1.2" />
<line x1="547.60" y1="49.09" x2="547.60" y2="58.51" stroke="#e6550d" stroke-width="1.2" />
<line x1="545.30" y1="49.09" x2="549.90" y2="49.09" stroke="#e6550d" stroke-width="1.2" />
<line x1="545.30" y1="58.51" x2="549.90" y2="58.51" stroke="#e6550d" stroke-width="1.2" />
<line x1="547.60" y1="69.51" x2="547.60" y2="79.40" stroke="#e6550d" stroke-width="1.2" />
<line x1="545.30" y1="69.51" x2="549.90" y2="69.51" stroke="#e6550d" stroke-width="1.2" />
<line x1="545.30" y1="79.40" x2="549.90" y2="79.40" stroke="#e6550d" stroke-width="1.2" />
<line x1="547.60" y1="100.13" x2="547.60" y2="112.10" stroke="#e6550d" stroke-width="1.2" />
<line x1="545.30" y1="100.13" x2="549.90" y2="100.13" stroke="#e6550d" stroke-width="1.2" />
<line x1="545.30" y1="112.10" x2="549.90" y2="112.10" stroke="#e6550d" stroke-width="1.2" />
<line x1="609.60" y1="14.80" x2="609.60" y2="59.14" stroke="#e6550d" stroke-width="1.2" />
<line x1="607.30" y1="14.80" x2="611.90" y2="14.80" stroke="#e6550d" stroke-width="1.2" />
<line x1="607.30" y1="59.14" x2="611.90" y2="59.14" stroke="#e6550d" stroke-width="1.2" />
<line x1="582.60" y1="73.80" x2="603.60" y2="73.80" stroke="#e6550d" stroke-width="1.6" />
<line x1="582.60" y1="88.50" x2="603.60" y2="88.50" stroke="#e6550d" stroke-width="1.6" stroke-dasharray="5 2.5" />
<line x1="582.60" y1="103.30" x2="603.60" y2="103.30" stroke="#e6550d" stroke-width="1.6" stroke-dasharray="1.6 2.6" />
<text transform="translate(611.10,77.40) scale(1.09,1)" font-size="10.45" text-anchor="start" fill="#000" font-weight="normal" >fixed RNN</text>
<text transform="translate(611.10,92.10) scale(1.09,1)" font-size="10.45" text-anchor="start" fill="#000" font-weight="normal" >input plastic</text>
<text transform="translate(611.10,106.90) scale(1.09,1)" font-size="10.45" text-anchor="start" fill="#000" font-weight="normal" >fully plastic</text>
<text transform="translate(6.2,168.4) scale(1.14,1)" font-size="12.8" font-weight="bold" fill="#000">d</text>
<polygon points="70.70,229.21 78.75,215.84 86.80,191.64 94.85,179.19 102.90,177.57 110.95,177.00 119.00,176.88 127.05,176.65 135.10,175.62 143.15,177.00 151.20,177.57 159.25,177.23 167.30,176.88 175.35,176.65 183.40,176.08 183.40,180.69 175.35,181.26 167.30,181.49 159.25,181.84 151.20,182.19 143.15,181.61 135.10,180.23 127.05,181.26 119.00,181.49 110.95,181.61 102.90,182.19 94.85,185.64 86.80,198.09 78.75,220.45 70.70,233.82" fill="#e6550d" fill-opacity="0.3" stroke="none"/>
<polyline points="70.70,231.51 78.75,218.14 86.80,194.86 94.85,182.42 102.90,179.88 110.95,179.30 119.00,179.19 127.05,178.96 135.10,177.92 143.15,179.30 151.20,179.88 159.25,179.53 167.30,179.19 175.35,178.96 183.40,178.38" fill="none" stroke="#e6550d" stroke-width="1.6" stroke-dasharray="4.5 2.2" stroke-linejoin="round" />
<line x1="65.50" y1="171.30" x2="65.50" y2="238.00" stroke="#1e1e1e" stroke-width="1.1" stroke-linecap="square"/>
<line x1="65.50" y1="238.00" x2="189.40" y2="238.00" stroke="#1e1e1e" stroke-width="1.1" stroke-linecap="square"/>
<line x1="62.00" y1="235.20" x2="65.50" y2="235.20" stroke="#000" stroke-width="0.9" />
<text transform="translate(58.50,239.40) scale(1.09,1)" font-size="10.45" text-anchor="end" fill="#000" font-weight="normal" >0</text>
<line x1="62.00" y1="212.15" x2="65.50" y2="212.15" stroke="#000" stroke-width="0.9" />
<text transform="translate(58.50,216.35) scale(1.09,1)" font-size="10.45" text-anchor="end" fill="#000" font-weight="normal" >2</text>
<line x1="62.00" y1="189.10" x2="65.50" y2="189.10" stroke="#000" stroke-width="0.9" />
<text transform="translate(58.50,193.30) scale(1.09,1)" font-size="10.45" text-anchor="end" fill="#000" font-weight="normal" >4</text>
<line x1="102.90" y1="238.00" x2="102.90" y2="241.50" stroke="#000" stroke-width="0.9" />
<text transform="translate(102.90,253.00) scale(1.09,1)" font-size="10.45" text-anchor="middle" fill="#000" font-weight="normal" >1</text>
<line x1="143.15" y1="238.00" x2="143.15" y2="241.50" stroke="#000" stroke-width="0.9" />
<text transform="translate(143.15,253.00) scale(1.09,1)" font-size="10.45" text-anchor="middle" fill="#000" font-weight="normal" >2</text>
<line x1="183.40" y1="238.00" x2="183.40" y2="241.50" stroke="#000" stroke-width="0.9" />
<text transform="translate(183.40,253.00) scale(1.09,1)" font-size="10.45" text-anchor="middle" fill="#000" font-weight="normal" >3</text>
<rect x="261.8" y="171" width="48.6" height="66.7" fill="#e4f2fc"/>
<polygon points="213.64,229.44 221.68,216.07 229.72,191.64 237.76,179.19 245.80,177.81 253.84,177.23 261.88,176.88 269.92,207.31 277.96,216.99 286.00,225.86 294.04,231.40 302.08,232.20 310.12,232.20 318.16,221.60 326.20,198.32 326.20,215.61 318.16,229.67 310.12,236.35 302.08,236.35 294.04,235.55 286.00,230.01 277.96,221.14 269.92,211.46 261.88,181.03 253.84,181.38 245.80,181.95 237.76,185.64 229.72,198.09 221.68,220.22 213.64,233.59" fill="#e6550d" fill-opacity="0.3" stroke="none"/>
<polygon points="261.88,178.04 269.92,177.81 277.96,177.00 286.00,178.27 294.04,178.96 302.08,178.50 310.12,178.38 318.16,177.81 326.20,177.23 326.20,179.07 318.16,179.65 310.12,180.23 302.08,180.34 294.04,180.80 286.00,180.11 277.96,178.84 269.92,179.65 261.88,179.88" fill="#e6550d" fill-opacity="0.3" stroke="none"/>
<polyline points="213.64,231.51 221.68,218.14 229.72,194.86 237.76,182.42 245.80,179.88 253.84,179.30 261.88,178.96 269.92,178.73 277.96,177.92 286.00,179.19 294.04,179.88 302.08,179.42 310.12,179.30 318.16,178.73 326.20,178.15" fill="none" stroke="#e6550d" stroke-width="1.5" stroke-dasharray="4 1.5 1.3 1.5" stroke-linejoin="round" />
<polyline points="213.64,231.51 221.68,218.14 229.72,194.86 237.76,182.42 245.80,179.88 253.84,179.30 261.88,178.96 269.92,209.38 277.96,219.06 286.00,227.94 294.04,233.47 302.08,234.28 310.12,234.28 318.16,225.63 326.20,206.96" fill="none" stroke="#e6550d" stroke-width="1.6" stroke-dasharray="4.5 2.2" stroke-linejoin="round" />
<line x1="208.60" y1="171.00" x2="208.60" y2="238.00" stroke="#1e1e1e" stroke-width="1.1" stroke-linecap="square"/>
<line x1="208.60" y1="238.00" x2="332.30" y2="238.00" stroke="#1e1e1e" stroke-width="1.1" stroke-linecap="square"/>
<line x1="205.10" y1="235.20" x2="208.60" y2="235.20" stroke="#000" stroke-width="0.9" />
<text transform="translate(201.60,239.40) scale(1.09,1)" font-size="10.45" text-anchor="end" fill="#000" font-weight="normal" >0</text>
<line x1="205.10" y1="212.15" x2="208.60" y2="212.15" stroke="#000" stroke-width="0.9" />
<text transform="translate(201.60,216.35) scale(1.09,1)" font-size="10.45" text-anchor="end" fill="#000" font-weight="normal" >2</text>
<line x1="205.10" y1="189.10" x2="208.60" y2="189.10" stroke="#000" stroke-width="0.9" />
<text transform="translate(201.60,193.30) scale(1.09,1)" font-size="10.45" text-anchor="end" fill="#000" font-weight="normal" >4</text>
<line x1="245.80" y1="238.00" x2="245.80" y2="241.50" stroke="#000" stroke-width="0.9" />
<text transform="translate(245.80,253.00) scale(1.09,1)" font-size="10.45" text-anchor="middle" fill="#000" font-weight="normal" >1</text>
<line x1="286.00" y1="238.00" x2="286.00" y2="241.50" stroke="#000" stroke-width="0.9" />
<text transform="translate(286.00,253.00) scale(1.09,1)" font-size="10.45" text-anchor="middle" fill="#000" font-weight="normal" >2</text>
<line x1="326.20" y1="238.00" x2="326.20" y2="241.50" stroke="#000" stroke-width="0.9" />
<text transform="translate(326.20,253.00) scale(1.09,1)" font-size="10.45" text-anchor="middle" fill="#000" font-weight="normal" >3</text>
<line x1="65.60" y1="318.00" x2="189.90" y2="318.00" stroke="#555" stroke-width="1.0" stroke-dasharray="1.5 2.5" />
<polygon points="74.49,314.08 75.66,314.20 77.35,314.40 79.14,314.49 80.58,314.31 81.48,313.96 82.12,313.49 82.70,312.62 83.44,311.08 84.40,308.42 85.48,304.89 86.60,301.35 87.74,298.64 88.87,297.12 90.04,296.30 91.22,295.04 92.39,294.26 93.52,293.07 94.63,291.75 95.78,290.53 97.04,289.65 98.46,289.26 100.00,289.22 101.57,289.27 103.13,289.19 104.69,288.84 106.26,288.38 107.80,287.98 109.22,287.80 110.46,287.96 111.59,288.32 112.69,288.78 113.87,289.19 115.16,289.64 116.51,290.17 117.88,290.55 119.24,290.57 120.54,290.15 121.81,289.40 123.14,288.44 124.61,287.34 126.35,285.92 128.28,283.27 130.16,281.67 131.77,280.66 132.87,280.55 133.65,281.05 134.47,281.64 135.71,281.81 137.56,281.38 139.80,280.64 142.14,279.80 144.30,279.05 146.13,278.46 147.81,277.92 149.53,277.37 151.46,275.82 153.82,275.01 156.45,274.09 159.00,273.23 161.13,272.59 162.62,272.28 163.70,272.19 164.66,272.18 165.78,272.13 167.20,272.11 168.73,272.16 170.23,272.08 171.51,271.67 172.47,270.88 173.23,268.66 173.93,267.37 174.73,265.91 175.64,263.97 176.59,261.63 177.59,259.53 178.67,258.30 179.82,258.26 181.04,259.01 182.33,260.15 183.68,261.30 185.27,262.54 187.04,264.02 188.65,265.41 189.77,266.37 189.77,278.35 188.65,277.39 187.04,276.01 185.27,274.52 183.68,273.28 182.33,272.14 181.04,270.99 179.82,270.24 178.67,270.29 177.59,271.51 176.59,273.61 175.64,275.95 174.73,277.89 173.93,279.35 173.23,280.64 172.47,280.56 171.51,281.35 170.23,281.76 168.73,281.84 167.20,281.79 165.78,281.81 164.66,281.86 163.70,281.87 162.62,281.96 161.13,282.27 159.00,282.91 156.45,283.77 153.82,284.69 151.46,285.50 149.53,285.21 147.81,285.76 146.13,286.30 144.30,286.88 142.14,287.63 139.80,288.48 137.56,289.22 135.71,289.65 134.47,289.47 133.65,288.88 132.87,288.39 131.77,288.50 130.16,289.51 128.28,291.10 126.35,291.91 124.61,293.34 123.14,294.43 121.81,295.40 120.54,296.14 119.24,296.56 117.88,296.54 116.51,296.16 115.16,295.63 113.87,295.18 112.69,294.77 111.59,294.32 110.46,293.95 109.22,293.80 107.80,293.97 106.26,294.37 104.69,294.83 103.13,295.18 101.57,295.26 100.00,295.21 98.46,295.26 97.04,295.64 95.78,296.52 94.63,297.74 93.52,299.07 92.39,300.25 91.22,301.03 90.04,300.91 88.87,301.73 87.74,303.25 86.60,305.96 85.48,309.50 84.40,313.03 83.44,315.69 82.70,317.23 82.12,318.10 81.48,318.57 80.58,318.92 79.14,319.10 77.35,319.01 75.66,318.81 74.49,318.69" fill="#000" fill-opacity="0.52" stroke="none"/>
<polyline points="74.49,316.39 75.66,316.51 77.35,316.70 79.14,316.80 80.58,316.62 81.48,316.27 82.12,315.80 82.70,314.93 83.44,313.39 84.40,310.72 85.48,307.20 86.60,303.65 87.74,300.94 88.87,299.43 90.04,298.61 91.22,298.04 92.39,297.25 93.52,296.07 94.63,294.75 95.78,293.53 97.04,292.64 98.46,292.26 100.00,292.21 101.57,292.27 103.13,292.18 104.69,291.84 106.26,291.38 107.80,290.97 109.22,290.80 110.46,290.95 111.59,291.32 112.69,291.77 113.87,292.18 115.16,292.64 116.51,293.16 117.88,293.55 119.24,293.57 120.54,293.14 121.81,292.40 123.14,291.43 124.61,290.34 126.35,288.92 128.28,287.19 130.16,285.59 131.77,284.58 132.87,284.47 133.65,284.97 134.47,285.56 135.71,285.73 137.56,285.30 139.80,284.56 142.14,283.71 144.30,282.96 146.13,282.38 147.81,281.84 149.53,281.29 151.46,280.66 153.82,279.85 156.45,278.93 159.00,278.07 161.13,277.43 162.62,277.12 163.70,277.03 164.66,277.02 165.78,276.97 167.20,276.95 168.73,277.00 170.23,276.92 171.51,276.51 172.47,275.72 173.23,274.65 173.93,273.36 174.73,271.90 175.64,269.96 176.59,267.62 177.59,265.52 178.67,264.29 179.82,264.25 181.04,265.00 182.33,266.15 183.68,267.29 185.27,268.53 187.04,270.01 188.65,271.40 189.77,272.36" fill="none" stroke="#000" stroke-width="1.7" stroke-linejoin="round" />
<line x1="65.60" y1="254.50" x2="65.60" y2="321.50" stroke="#1e1e1e" stroke-width="1.1" stroke-linecap="square"/>
<line x1="65.60" y1="321.50" x2="189.90" y2="321.50" stroke="#1e1e1e" stroke-width="1.1" stroke-linecap="square"/>
<line x1="62.10" y1="318.00" x2="65.60" y2="318.00" stroke="#000" stroke-width="0.9" />
<text transform="translate(58.60,322.20) scale(1.09,1)" font-size="10.45" text-anchor="end" fill="#000" font-weight="normal" >0</text>
<line x1="62.10" y1="294.95" x2="65.60" y2="294.95" stroke="#000" stroke-width="0.9" />
<text transform="translate(58.60,299.15) scale(1.09,1)" font-size="10.45" text-anchor="end" fill="#000" font-weight="normal" >1</text>
<line x1="62.10" y1="271.90" x2="65.60" y2="271.90" stroke="#000" stroke-width="0.9" />
<text transform="translate(58.60,276.10) scale(1.09,1)" font-size="10.45" text-anchor="end" fill="#000" font-weight="normal" >2</text>
<line x1="108.50" y1="321.50" x2="108.50" y2="325.00" stroke="#000" stroke-width="0.9" />
<text transform="translate(108.50,336.50) scale(1.09,1)" font-size="10.45" text-anchor="middle" fill="#000" font-weight="normal" >1</text>
<line x1="144.30" y1="321.50" x2="144.30" y2="325.00" stroke="#000" stroke-width="0.9" />
<text transform="translate(144.30,336.50) scale(1.09,1)" font-size="10.45" text-anchor="middle" fill="#000" font-weight="normal" >2</text>
<line x1="180.10" y1="321.50" x2="180.10" y2="325.00" stroke="#000" stroke-width="0.9" />
<text transform="translate(180.10,336.50) scale(1.09,1)" font-size="10.45" text-anchor="middle" fill="#000" font-weight="normal" >3</text>
<rect x="265.8" y="255" width="47.6" height="66.5" fill="#e4f2fc"/>
<line x1="208.20" y1="318.00" x2="332.40" y2="318.00" stroke="#555" stroke-width="1.0" stroke-dasharray="1.5 2.5" />
<polygon points="215.35,318.92 215.95,318.65 216.80,318.26 217.82,317.80 218.92,317.31 220.18,316.92 221.61,316.56 223.03,316.00 224.29,315.00 225.23,313.55 225.99,311.76 226.78,306.81 227.86,304.17 229.30,300.60 230.97,296.29 232.78,292.17 234.65,286.19 236.61,284.77 238.68,284.36 240.79,284.40 242.88,284.35 244.89,284.11 246.88,283.97 248.92,283.90 251.10,283.89 253.66,283.97 256.48,284.16 259.12,284.32 261.11,284.35 262.16,284.00 262.56,283.41 262.78,283.00 263.25,283.19 264.03,284.05 264.89,285.37 265.91,291.99 267.19,294.26 268.82,297.56 270.74,301.72 272.76,305.60 274.69,308.09 276.49,308.52 278.25,307.63 280.02,306.33 281.85,305.55 283.75,305.58 285.71,305.91 287.70,306.29 289.71,306.48 291.83,306.20 294.04,305.65 296.14,305.29 297.93,305.55 299.19,306.93 300.08,309.07 300.97,311.12 302.22,312.24 304.01,312.25 306.11,311.59 308.32,310.33 310.44,308.55 312.47,301.73 314.49,298.26 316.45,294.75 318.31,291.95 320.03,290.31 321.64,289.33 323.19,288.40 324.75,286.88 326.40,284.24 328.10,280.92 329.64,277.82 330.82,275.82 331.54,275.42 331.92,276.05 332.10,277.03 332.25,277.66 332.25,291.49 332.10,290.86 331.92,289.88 331.54,289.25 330.82,289.65 329.64,291.65 328.10,294.75 326.40,298.07 324.75,300.71 323.19,302.23 321.64,303.16 320.03,304.14 318.31,305.78 316.45,308.58 314.49,312.09 312.47,315.56 310.44,314.08 308.32,315.86 306.11,317.12 304.01,317.78 302.22,317.77 300.97,316.65 300.08,314.60 299.19,312.46 297.93,311.08 296.14,310.82 294.04,311.19 291.83,311.73 289.71,312.01 287.70,311.83 285.71,311.45 283.75,311.12 281.85,311.08 280.02,311.86 278.25,313.16 276.49,314.06 274.69,313.62 272.76,311.14 270.74,307.25 268.82,303.10 267.19,299.79 265.91,297.53 264.89,300.58 264.03,299.27 263.25,298.41 262.78,298.21 262.56,298.62 262.16,299.21 261.11,299.56 259.12,299.54 256.48,299.37 253.66,299.19 251.10,299.10 248.92,299.12 246.88,299.19 244.89,299.33 242.88,299.56 240.79,299.62 238.68,299.57 236.61,299.99 234.65,301.40 232.78,301.39 230.97,305.51 229.30,309.82 227.86,313.39 226.78,316.03 225.99,315.45 225.23,317.24 224.29,318.69 223.03,319.69 221.61,320.25 220.18,320.60 218.92,321.00 217.82,321.49 216.80,321.95 215.95,322.34 215.35,322.61" fill="#000" fill-opacity="0.52" stroke="none"/>
<polyline points="263.25,290.80 263.88,290.35 264.75,289.71 265.86,288.92 267.19,288.03 268.87,286.88 270.87,285.49 272.91,284.22 274.69,283.42 276.07,283.41 277.22,283.90 278.36,284.45 279.70,284.58 281.17,284.13 282.69,283.35 284.51,282.44 286.85,281.58 289.97,280.76 293.69,279.90 297.56,279.07 301.15,278.35 304.41,278.07 307.56,278.07 310.54,277.75 313.31,276.51 315.75,273.45 317.93,269.13 320.03,265.17 322.24,263.14 324.83,264.07 327.63,266.92 330.14,270.17 331.89,272.36" fill="none" stroke="#000" stroke-width="0.8" stroke-dasharray="2.2 0.8" stroke-linejoin="round" />
<polyline points="215.35,320.77 215.95,320.49 216.80,320.10 217.82,319.64 218.92,319.15 220.18,318.76 221.61,318.40 223.03,317.85 224.29,316.85 225.23,315.40 225.99,313.61 226.78,311.42 227.86,308.78 229.30,305.21 230.97,300.90 232.78,296.78 234.65,293.80 236.61,292.38 238.68,291.97 240.79,292.01 242.88,291.95 244.89,291.72 246.88,291.58 248.92,291.51 251.10,291.49 253.66,291.58 256.48,291.77 259.12,291.93 261.11,291.95 262.16,291.61 262.56,291.02 262.78,290.61 263.25,290.80 264.03,291.66 264.89,292.98 265.91,294.76 267.19,297.02 268.82,300.33 270.74,304.49 272.76,308.37 274.69,310.85 276.49,311.29 278.25,310.39 280.02,309.09 281.85,308.32 283.75,308.35 285.71,308.68 287.70,309.06 289.71,309.24 291.83,308.96 294.04,308.42 296.14,308.06 297.93,308.32 299.19,309.70 300.08,311.83 300.97,313.88 302.22,315.00 304.01,315.02 306.11,314.36 308.32,313.10 310.44,311.32 312.47,308.65 314.49,305.18 316.45,301.67 318.31,298.87 320.03,297.22 321.64,296.25 323.19,295.31 324.75,293.80 326.40,291.15 328.10,287.83 329.64,284.73 330.82,282.73 331.54,282.33 331.92,282.96 332.10,283.94 332.25,284.58" fill="none" stroke="#000" stroke-width="1.7" stroke-linejoin="round" />
<line x1="208.20" y1="254.50" x2="208.20" y2="321.50" stroke="#1e1e1e" stroke-width="1.1" stroke-linecap="square"/>
<line x1="208.20" y1="321.50" x2="332.40" y2="321.50" stroke="#1e1e1e" stroke-width="1.1" stroke-linecap="square"/>
<line x1="204.70" y1="318.00" x2="208.20" y2="318.00" stroke="#000" stroke-width="0.9" />
<line x1="204.70" y1="294.95" x2="208.20" y2="294.95" stroke="#000" stroke-width="0.9" />
<line x1="204.70" y1="271.90" x2="208.20" y2="271.90" stroke="#000" stroke-width="0.9" />
<line x1="251.10" y1="321.50" x2="251.10" y2="325.00" stroke="#000" stroke-width="0.9" />
<text transform="translate(251.10,336.50) scale(1.09,1)" font-size="10.45" text-anchor="middle" fill="#000" font-weight="normal" >1</text>
<line x1="286.85" y1="321.50" x2="286.85" y2="325.00" stroke="#000" stroke-width="0.9" />
<text transform="translate(286.85,336.50) scale(1.09,1)" font-size="10.45" text-anchor="middle" fill="#000" font-weight="normal" >2</text>
<line x1="322.60" y1="321.50" x2="322.60" y2="325.00" stroke="#000" stroke-width="0.9" />
<text transform="translate(322.60,336.50) scale(1.09,1)" font-size="10.45" text-anchor="middle" fill="#000" font-weight="normal" >3</text>
<text transform="translate(11.20,247.50) rotate(-90)" font-size="12.54" text-anchor="middle" fill="#000" font-weight="normal"  textLength="65.5" lengthAdjust="spacingAndGlyphs">selectivity</text>
<text transform="translate(32.50,205.00) rotate(-90) scale(1.09,1)" font-size="12.54" text-anchor="middle" fill="#000" font-weight="normal" >model</text>
<text transform="translate(46.10,205.00) rotate(-90) scale(1.09,1)" font-size="12.54" text-anchor="middle" fill="#000" font-weight="normal" >(a.u.)</text>
<text transform="translate(32.50,288.00) rotate(-90) scale(1.09,1)" font-size="12.54" text-anchor="middle" fill="#000" font-weight="normal" >data</text>
<text transform="translate(46.10,288.00) rotate(-90) scale(1.09,1)" font-size="12.54" text-anchor="middle" fill="#000" font-weight="normal" >(spikes/s)</text>
<text transform="translate(191.80,349.20) scale(1.09,1)" font-size="12.54" text-anchor="middle" fill="#000" font-weight="normal" >time (s)</text>
<text transform="translate(346,168.2) scale(1.14,1)" font-size="12.8" font-weight="bold" fill="#000">e</text>
<polyline points="418.80,204.00 426.24,180.50 433.68,180.03 441.12,174.39 448.56,174.62 456.00,174.86 463.44,175.33 470.88,175.09 478.32,174.86 485.76,174.86 493.20,174.86 500.64,175.09 508.08,174.86 515.52,174.86 522.96,174.62 530.40,174.86" fill="none" stroke="#e8262b" stroke-width="1.15" stroke-dasharray="3.2 1.6" stroke-linejoin="round" />
<polyline points="418.80,204.00 426.24,224.68 433.68,225.62 441.12,233.61 448.56,234.08 456.00,234.08 463.44,234.08 470.88,234.31 478.32,234.55 485.76,234.55 493.20,235.02 500.64,234.78 508.08,234.55 515.52,234.55 522.96,234.31 530.40,234.08" fill="none" stroke="#2ca02c" stroke-width="1.15" stroke-dasharray="3.2 1.6" stroke-linejoin="round" />
<line x1="411.50" y1="171.00" x2="411.50" y2="238.20" stroke="#1e1e1e" stroke-width="1.1" stroke-linecap="square"/>
<line x1="411.50" y1="238.20" x2="534.20" y2="238.20" stroke="#1e1e1e" stroke-width="1.1" stroke-linecap="square"/>
<line x1="408.00" y1="180.50" x2="411.50" y2="180.50" stroke="#000" stroke-width="0.9" />
<text transform="translate(404.50,184.70) scale(1.09,1)" font-size="10.45" text-anchor="end" fill="#000" font-weight="normal" >5</text>
<line x1="408.00" y1="204.00" x2="411.50" y2="204.00" stroke="#000" stroke-width="0.9" />
<text transform="translate(404.50,208.20) scale(1.09,1)" font-size="10.45" text-anchor="end" fill="#000" font-weight="normal" >0</text>
<line x1="408.00" y1="227.50" x2="411.50" y2="227.50" stroke="#000" stroke-width="0.9" />
<text transform="translate(404.50,231.70) scale(1.09,1)" font-size="10.45" text-anchor="end" fill="#000" font-weight="normal" >−5</text>
<line x1="418.80" y1="238.20" x2="418.80" y2="241.70" stroke="#000" stroke-width="0.9" />
<text transform="translate(418.80,253.20) scale(1.09,1)" font-size="10.45" text-anchor="middle" fill="#000" font-weight="normal" >0</text>
<line x1="456.00" y1="238.20" x2="456.00" y2="241.70" stroke="#000" stroke-width="0.9" />
<text transform="translate(456.00,253.20) scale(1.09,1)" font-size="10.45" text-anchor="middle" fill="#000" font-weight="normal" >1</text>
<line x1="493.20" y1="238.20" x2="493.20" y2="241.70" stroke="#000" stroke-width="0.9" />
<text transform="translate(493.20,253.20) scale(1.09,1)" font-size="10.45" text-anchor="middle" fill="#000" font-weight="normal" >2</text>
<line x1="530.40" y1="238.20" x2="530.40" y2="241.70" stroke="#000" stroke-width="0.9" />
<text transform="translate(530.40,253.20) scale(1.09,1)" font-size="10.45" text-anchor="middle" fill="#000" font-weight="normal" >3</text>
<line x1="439.30" y1="195.30" x2="459.70" y2="195.30" stroke="#2ca02c" stroke-width="1.15" stroke-dasharray="3.2 1.6" />
<line x1="439.30" y1="211.90" x2="459.70" y2="211.90" stroke="#e8262b" stroke-width="1.15" stroke-dasharray="3.2 1.6" />
<text transform="translate(467.90,199.20) scale(1.09,1)" font-size="10.45" text-anchor="start" fill="#000" font-weight="normal" >left choice</text>
<text transform="translate(467.90,215.80) scale(1.09,1)" font-size="10.45" text-anchor="start" fill="#000" font-weight="normal" >right choice</text>
<rect x="613.4" y="171.4" width="45.1" height="66.7" fill="#ebf4f9"/>
<polyline points="561.70,204.40 569.09,181.00 576.47,181.00 583.86,175.38 591.25,175.62 598.63,175.85 606.02,176.09 613.41,176.32 620.79,204.17 628.18,203.93 635.57,203.93 642.95,203.70 650.34,203.70 657.73,203.46 665.11,199.72 672.50,193.17" fill="none" stroke="#e8262b" stroke-width="1.15" stroke-dasharray="3.2 1.6" stroke-linejoin="round" />
<polyline points="561.70,204.40 569.09,225.46 576.47,225.93 583.86,233.88 591.25,234.12 598.63,234.35 606.02,234.35 613.41,234.35 620.79,205.57 628.18,205.80 635.57,205.80 642.95,205.80 650.34,205.57 657.73,205.34 665.11,207.21 672.50,210.48" fill="none" stroke="#2ca02c" stroke-width="1.15" stroke-dasharray="3.2 1.6" stroke-linejoin="round" />
<line x1="554.90" y1="171.40" x2="554.90" y2="238.10" stroke="#1e1e1e" stroke-width="1.1" stroke-linecap="square"/>
<line x1="554.90" y1="238.10" x2="678.50" y2="238.10" stroke="#1e1e1e" stroke-width="1.1" stroke-linecap="square"/>
<line x1="551.40" y1="181.00" x2="554.90" y2="181.00" stroke="#000" stroke-width="0.9" />
<line x1="551.40" y1="204.40" x2="554.90" y2="204.40" stroke="#000" stroke-width="0.9" />
<line x1="551.40" y1="227.80" x2="554.90" y2="227.80" stroke="#000" stroke-width="0.9" />
<line x1="561.70" y1="238.10" x2="561.70" y2="241.60" stroke="#000" stroke-width="0.9" />
<text transform="translate(561.70,253.10) scale(1.09,1)" font-size="10.45" text-anchor="middle" fill="#000" font-weight="normal" >0</text>
<line x1="598.63" y1="238.10" x2="598.63" y2="241.60" stroke="#000" stroke-width="0.9" />
<text transform="translate(598.63,253.10) scale(1.09,1)" font-size="10.45" text-anchor="middle" fill="#000" font-weight="normal" >1</text>
<line x1="635.57" y1="238.10" x2="635.57" y2="241.60" stroke="#000" stroke-width="0.9" />
<text transform="translate(635.57,253.10) scale(1.09,1)" font-size="10.45" text-anchor="middle" fill="#000" font-weight="normal" >2</text>
<line x1="672.50" y1="238.10" x2="672.50" y2="241.60" stroke="#000" stroke-width="0.9" />
<text transform="translate(672.50,253.10) scale(1.09,1)" font-size="10.45" text-anchor="middle" fill="#000" font-weight="normal" >3</text>
<polyline points="419.40,287.14 420.33,287.29 421.26,285.24 422.19,287.10 423.13,285.56 424.06,286.79 424.99,283.66 425.92,282.82 426.85,280.98 427.78,281.83 428.72,281.12 429.65,281.29 430.58,281.65 431.51,280.71 432.44,281.52 433.38,280.01 434.31,277.57 435.24,276.43 436.17,275.77 437.10,272.72 438.03,273.13 438.96,273.73 439.90,272.95 440.83,272.99 441.76,272.57 442.69,272.76 443.62,270.44 444.56,271.45 445.49,271.87 446.42,271.63 447.35,270.17 448.28,271.86 449.21,273.20 450.14,270.99 451.08,274.23 452.01,274.92 452.94,274.40 453.87,272.66 454.80,275.40 455.74,278.54 456.67,277.09 457.60,275.93 458.53,274.48 459.46,272.14 460.39,270.48 461.32,270.32 462.26,270.99 463.19,269.52 464.12,268.56 465.05,269.63 465.98,270.67 466.91,269.95 467.85,269.85 468.78,271.83 469.71,272.43 470.64,271.37 471.57,272.26 472.50,271.42 473.44,269.77 474.37,268.55 475.30,267.26 476.23,269.19 477.16,266.25 478.09,266.35 479.03,267.49 479.96,266.06 480.89,266.00 481.82,266.22 482.75,265.21 483.68,263.38 484.62,264.21 485.55,263.49 486.48,262.49 487.41,266.09 488.34,267.74 489.27,267.56 490.21,270.44 491.14,270.74 492.07,269.61 493.00,269.67 493.93,270.56 494.86,272.50 495.80,268.66 496.73,268.26 497.66,267.47 498.59,266.99 499.52,268.71 500.45,268.91 501.39,268.42 502.32,265.32 503.25,266.69 504.18,266.79 505.11,266.90 506.04,266.12 506.98,265.84 507.91,265.98 508.84,267.69 509.77,269.60 510.70,266.66 511.63,264.64 512.57,262.19 513.50,261.92 514.43,261.88 515.36,261.93 516.29,264.36 517.22,265.39 518.16,266.22 519.09,265.62 520.02,263.79 520.95,264.61 521.88,264.97 522.81,266.45 523.75,267.50 524.68,268.73 525.61,269.31 526.54,272.00 527.47,272.20 528.40,271.38 529.34,268.30 530.27,266.50 531.20,264.67 532.13,263.90 533.06,265.54 533.99,265.00 534.93,263.87" fill="none" stroke="#f0141e" stroke-width="1.6" stroke-linejoin="round" />
<polyline points="419.40,290.83 420.33,290.53 421.26,291.33 422.19,292.01 423.13,291.91 424.06,290.34 424.99,287.57 425.92,286.29 426.85,284.40 427.78,284.89 428.72,284.99 429.65,286.10 430.58,292.43 431.51,295.08 432.44,298.90 433.38,302.95 434.31,309.40 435.24,310.69 436.17,310.52 437.10,310.06 438.03,309.09 438.96,309.05 439.90,308.51 440.83,309.53 441.76,309.12 442.69,309.96 443.62,312.10 444.56,311.28 445.49,312.69 446.42,313.05 447.35,314.46 448.28,315.19 449.21,315.03 450.14,314.60 451.08,313.51 452.01,313.26 452.94,313.76 453.87,314.44 454.80,314.22 455.74,312.18 456.67,313.18 457.60,312.98 458.53,312.83 459.46,314.91 460.39,314.48 461.32,311.49 462.26,312.83 463.19,311.06 464.12,309.30 465.05,308.51 465.98,306.08 466.91,304.79 467.85,304.97 468.78,303.89 469.71,303.81 470.64,303.77 471.57,303.52 472.50,304.82 473.44,306.01 474.37,308.19 475.30,307.47 476.23,308.59 477.16,309.18 478.09,310.52 479.03,311.07 479.96,311.37 480.89,309.96 481.82,313.07 482.75,314.37 483.68,313.57 484.62,312.25 485.55,311.22 486.48,312.82 487.41,313.80 488.34,310.80 489.27,309.97 490.21,309.49 491.14,306.57 492.07,304.51 493.00,305.53 493.93,306.24 494.86,306.68 495.80,305.98 496.73,306.94 497.66,307.82 498.59,308.08 499.52,310.51 500.45,308.80 501.39,308.37 502.32,308.67 503.25,311.52 504.18,311.61 505.11,310.18 506.04,312.03 506.98,311.17 507.91,309.41 508.84,310.90 509.77,308.51 510.70,308.35 511.63,308.94 512.57,308.66 513.50,308.54 514.43,309.18 515.36,308.58 516.29,310.31 517.22,311.07 518.16,310.06 519.09,310.77 520.02,312.22 520.95,311.61 521.88,311.13 522.81,313.26 523.75,315.66 524.68,315.92 525.61,316.43 526.54,317.21 527.47,316.18 528.40,317.26 529.34,315.12 530.27,316.40 531.20,316.25 532.13,314.40 533.06,312.66 533.99,311.78 534.93,311.59" fill="none" stroke="#138a13" stroke-width="1.6" stroke-linejoin="round" />
<line x1="411.50" y1="255.30" x2="411.50" y2="321.00" stroke="#1e1e1e" stroke-width="1.1" stroke-linecap="square"/>
<line x1="411.50" y1="321.00" x2="535.60" y2="321.00" stroke="#1e1e1e" stroke-width="1.1" stroke-linecap="square"/>
<line x1="408.00" y1="266.10" x2="411.50" y2="266.10" stroke="#000" stroke-width="0.9" />
<text transform="translate(404.50,270.30) scale(1.09,1)" font-size="10.45" text-anchor="end" fill="#000" font-weight="normal" >20</text>
<line x1="408.00" y1="289.40" x2="411.50" y2="289.40" stroke="#000" stroke-width="0.9" />
<text transform="translate(404.50,293.60) scale(1.09,1)" font-size="10.45" text-anchor="end" fill="#000" font-weight="normal" >0</text>
<line x1="408.00" y1="312.70" x2="411.50" y2="312.70" stroke="#000" stroke-width="0.9" />
<text transform="translate(404.50,316.90) scale(1.09,1)" font-size="10.45" text-anchor="end" fill="#000" font-weight="normal" >−20</text>
<line x1="419.40" y1="321.00" x2="419.40" y2="324.50" stroke="#000" stroke-width="0.9" />
<text transform="translate(419.40,336.00) scale(1.09,1)" font-size="10.45" text-anchor="middle" fill="#000" font-weight="normal" >0</text>
<line x1="456.67" y1="321.00" x2="456.67" y2="324.50" stroke="#000" stroke-width="0.9" />
<text transform="translate(456.67,336.00) scale(1.09,1)" font-size="10.45" text-anchor="middle" fill="#000" font-weight="normal" >1</text>
<line x1="493.93" y1="321.00" x2="493.93" y2="324.50" stroke="#000" stroke-width="0.9" />
<text transform="translate(493.93,336.00) scale(1.09,1)" font-size="10.45" text-anchor="middle" fill="#000" font-weight="normal" >2</text>
<line x1="531.20" y1="321.00" x2="531.20" y2="324.50" stroke="#000" stroke-width="0.9" />
<text transform="translate(531.20,336.00) scale(1.09,1)" font-size="10.45" text-anchor="middle" fill="#000" font-weight="normal" >3</text>
<rect x="615.9" y="255.3" width="49.8" height="65.7" fill="#ebf4f9"/>
<polyline points="562.10,280.53 563.03,279.46 563.97,278.28 564.90,279.19 565.83,280.45 566.77,279.76 567.70,278.84 568.63,277.72 569.57,279.48 570.50,280.09 571.43,278.18 572.37,277.27 573.30,275.55 574.23,275.06 575.17,275.73 576.10,274.73 577.03,270.50 577.97,270.44 578.90,270.06 579.83,270.24 580.77,268.65 581.70,267.37 582.63,266.81 583.57,266.48 584.50,265.88 585.43,265.06 586.37,264.14 587.30,264.49 588.23,266.61 589.17,265.23 590.10,266.69 591.03,266.16 591.97,267.21 592.90,266.24 593.83,266.55 594.77,265.69 595.70,262.12 596.63,263.75 597.57,263.65 598.50,265.81 599.43,265.83 600.37,264.88 601.30,265.17 602.23,264.84 603.17,264.95 604.10,266.13 605.03,265.13 605.97,266.03 606.90,263.74 607.83,265.02 608.77,264.45 609.70,264.86 610.63,264.09 611.57,265.29 612.50,264.27 613.43,264.89 614.37,263.80 615.30,263.90 616.23,264.44 617.17,267.72 618.10,268.82 619.03,270.71 619.97,271.50 620.90,274.98 621.83,276.81 622.77,278.15 623.70,279.76 624.63,281.34 625.57,282.87 626.50,282.73 627.43,282.59 628.37,281.39 629.30,279.30 630.23,277.46 631.17,276.90 632.10,276.37 633.03,276.21 633.97,276.03 634.90,276.29 635.83,275.65 636.77,274.13 637.70,276.25 638.63,277.96 639.57,276.40 640.50,277.65 641.43,278.52 642.37,279.70 643.30,282.96 644.23,281.60 645.17,282.22 646.10,284.80 647.03,286.13 647.97,288.07 648.90,289.86 649.83,290.18 650.77,290.06 651.70,289.45 652.63,288.69 653.57,288.64 654.50,286.97 655.43,287.96 656.37,286.54 657.30,285.18 658.23,286.82 659.17,289.45 660.10,290.15 661.03,289.61 661.97,289.34 662.90,288.44 663.83,290.87 664.77,291.35 665.70,288.38 666.63,286.59 667.57,286.82 668.50,282.57 669.43,277.78 670.37,275.59 671.30,275.88 672.23,274.67 673.17,272.57 674.10,268.37 675.03,267.32 675.97,266.46 676.90,263.72 677.83,263.16" fill="none" stroke="#f0141e" stroke-width="1.6" stroke-linejoin="round" />
<polyline points="562.10,285.13 563.03,283.62 563.97,285.23 564.90,287.09 565.83,285.96 566.77,285.03 567.70,284.85 568.63,284.65 569.57,285.22 570.50,287.93 571.43,290.43 572.37,292.11 573.30,294.10 574.23,294.75 575.17,296.37 576.10,300.09 577.03,300.93 577.97,303.37 578.90,304.54 579.83,305.87 580.77,308.62 581.70,312.11 582.63,311.78 583.57,314.31 584.50,312.79 585.43,314.26 586.37,314.69 587.30,313.03 588.23,316.06 589.17,315.92 590.10,317.17 591.03,317.41 591.97,317.99 592.90,316.22 593.83,316.15 594.77,315.27 595.70,314.35 596.63,316.12 597.57,313.62 598.50,313.88 599.43,315.28 600.37,314.85 601.30,312.92 602.23,311.68 603.17,312.66 604.10,312.19 605.03,311.67 605.97,310.45 606.90,310.91 607.83,309.70 608.77,310.82 609.70,310.99 610.63,309.43 611.57,308.38 612.50,308.44 613.43,307.58 614.37,307.35 615.30,306.59 616.23,305.65 617.17,305.71 618.10,305.29 619.03,306.19 619.97,306.67 620.90,308.63 621.83,306.61 622.77,305.28 623.70,303.67 624.63,304.94 625.57,303.71 626.50,302.75 627.43,303.14 628.37,300.09 629.30,297.82 630.23,299.70 631.17,298.85 632.10,297.10 633.03,299.28 633.97,298.08 634.90,296.86 635.83,295.96 636.77,298.86 637.70,300.07 638.63,299.39 639.57,298.05 640.50,299.98 641.43,300.45 642.37,301.10 643.30,299.15 644.23,299.94 645.17,299.62 646.10,299.63 647.03,299.34 647.97,300.22 648.90,300.99 649.83,300.77 650.77,301.61 651.70,304.09 652.63,304.12 653.57,302.53 654.50,302.42 655.43,302.77 656.37,302.22 657.30,298.64 658.23,300.25 659.17,300.39 660.10,300.03 661.03,300.33 661.97,298.67 662.90,297.91 663.83,297.72 664.77,299.17 665.70,296.89 666.63,295.98 667.57,297.47 668.50,301.33 669.43,300.90 670.37,302.28 671.30,302.33 672.23,303.03 673.17,304.11 674.10,303.11 675.03,302.03 675.97,299.76 676.90,300.35 677.83,299.28" fill="none" stroke="#138a13" stroke-width="1.6" stroke-linejoin="round" />
<line x1="554.40" y1="255.30" x2="554.40" y2="321.00" stroke="#1e1e1e" stroke-width="1.1" stroke-linecap="square"/>
<line x1="554.40" y1="321.00" x2="679.00" y2="321.00" stroke="#1e1e1e" stroke-width="1.1" stroke-linecap="square"/>
<line x1="550.90" y1="266.40" x2="554.40" y2="266.40" stroke="#000" stroke-width="0.9" />
<line x1="550.90" y1="289.00" x2="554.40" y2="289.00" stroke="#000" stroke-width="0.9" />
<line x1="550.90" y1="311.60" x2="554.40" y2="311.60" stroke="#000" stroke-width="0.9" />
<line x1="562.10" y1="321.00" x2="562.10" y2="324.50" stroke="#000" stroke-width="0.9" />
<text transform="translate(562.10,336.00) scale(1.09,1)" font-size="10.45" text-anchor="middle" fill="#000" font-weight="normal" >0</text>
<line x1="599.43" y1="321.00" x2="599.43" y2="324.50" stroke="#000" stroke-width="0.9" />
<text transform="translate(599.43,336.00) scale(1.09,1)" font-size="10.45" text-anchor="middle" fill="#000" font-weight="normal" >1</text>
<line x1="636.77" y1="321.00" x2="636.77" y2="324.50" stroke="#000" stroke-width="0.9" />
<text transform="translate(636.77,336.00) scale(1.09,1)" font-size="10.45" text-anchor="middle" fill="#000" font-weight="normal" >2</text>
<line x1="674.10" y1="321.00" x2="674.10" y2="324.50" stroke="#000" stroke-width="0.9" />
<text transform="translate(674.10,336.00) scale(1.09,1)" font-size="10.45" text-anchor="middle" fill="#000" font-weight="normal" >3</text>
<text transform="translate(365.00,243.30) rotate(-90)" font-size="12.54" text-anchor="middle" fill="#000" font-weight="normal"  textLength="75.5" lengthAdjust="spacingAndGlyphs">dPC 1 (a.u.)</text>
<text transform="translate(384.70,204.50) rotate(-90) scale(1.09,1)" font-size="12.54" text-anchor="middle" fill="#000" font-weight="normal" >model</text>
<text transform="translate(384.70,288.20) rotate(-90) scale(1.09,1)" font-size="12.54" text-anchor="middle" fill="#000" font-weight="normal" >data</text>
<text transform="translate(555.50,349.20) scale(1.09,1)" font-size="12.54" text-anchor="middle" fill="#000" font-weight="normal" >time (s)</text>
<text transform="translate(6,372.8) scale(1.14,1)" font-size="12.8" font-weight="bold" fill="#000">f</text>
<rect x="110.6" y="375.8" width="41.9" height="86.2" fill="#e4f2fc"/>
<polygon points="69.82,456.31 76.64,447.45 83.46,424.50 90.28,396.02 97.10,388.11 103.92,385.73 110.74,384.15 117.56,383.36 124.38,382.09 131.20,380.98 138.02,380.83 144.84,380.98 151.66,380.98 158.48,380.83 165.30,380.51 165.30,384.62 158.48,384.31 151.66,384.15 144.84,383.99 138.02,383.67 131.20,383.99 124.38,384.94 117.56,386.52 110.74,388.42 103.92,394.44 97.10,403.93 90.28,416.59 83.46,430.83 76.64,449.03 69.82,456.94" fill="#e6550d" fill-opacity="0.4" stroke="none"/>
<polyline points="69.82,456.63 76.64,448.24 83.46,427.67 90.28,405.51 97.10,395.38 103.92,389.69 110.74,385.73 117.56,384.62 124.38,383.36 131.20,382.41 138.02,382.25 144.84,382.41 151.66,382.57 158.48,382.57 165.30,382.57" fill="none" stroke="#e6550d" stroke-width="1.6" stroke-dasharray="4.5 2.2" stroke-linejoin="round" />
<line x1="65.90" y1="375.80" x2="65.90" y2="462.00" stroke="#1e1e1e" stroke-width="1.1" stroke-linecap="square"/>
<line x1="65.90" y1="462.00" x2="169.90" y2="462.00" stroke="#1e1e1e" stroke-width="1.1" stroke-linecap="square"/>
<line x1="62.40" y1="460.90" x2="65.90" y2="460.90" stroke="#000" stroke-width="0.9" />
<text transform="translate(58.90,465.10) scale(1.09,1)" font-size="10.45" text-anchor="end" fill="#000" font-weight="normal" >0</text>
<line x1="62.40" y1="429.25" x2="65.90" y2="429.25" stroke="#000" stroke-width="0.9" />
<text transform="translate(58.90,433.45) scale(1.09,1)" font-size="10.45" text-anchor="end" fill="#000" font-weight="normal" >2</text>
<line x1="62.40" y1="397.60" x2="65.90" y2="397.60" stroke="#000" stroke-width="0.9" />
<text transform="translate(58.90,401.80) scale(1.09,1)" font-size="10.45" text-anchor="end" fill="#000" font-weight="normal" >4</text>
<line x1="97.10" y1="462.00" x2="97.10" y2="465.50" stroke="#000" stroke-width="0.9" />
<text transform="translate(97.10,477.00) scale(1.09,1)" font-size="10.45" text-anchor="middle" fill="#000" font-weight="normal" >1</text>
<line x1="131.20" y1="462.00" x2="131.20" y2="465.50" stroke="#000" stroke-width="0.9" />
<text transform="translate(131.20,477.00) scale(1.09,1)" font-size="10.45" text-anchor="middle" fill="#000" font-weight="normal" >2</text>
<line x1="165.30" y1="462.00" x2="165.30" y2="465.50" stroke="#000" stroke-width="0.9" />
<text transform="translate(165.30,477.00) scale(1.09,1)" font-size="10.45" text-anchor="middle" fill="#000" font-weight="normal" >3</text>
<text transform="translate(26.80,418.50) rotate(-90)" font-size="12.54" text-anchor="middle" fill="#000" font-weight="normal"  textLength="60" lengthAdjust="spacingAndGlyphs">selectivity</text>
<text transform="translate(39.80,418.60) rotate(-90)" font-size="12.54" text-anchor="middle" fill="#000" font-weight="normal"  textLength="117" lengthAdjust="spacingAndGlyphs">(fully plastic model)</text>
<text transform="translate(118.00,491.20) scale(1.09,1)" font-size="12.54" text-anchor="middle" fill="#000" font-weight="normal" >time (s)</text>
<text transform="translate(180.2,373.6) scale(1.14,1)" font-size="12.8" font-weight="bold" fill="#000">g</text>
<rect x="278" y="376.1" width="42.2" height="85.7" fill="#e4f2fc"/>
<line x1="233.80" y1="383.75" x2="337.60" y2="383.75" stroke="#555" stroke-width="1.0" stroke-dasharray="1.5 2.5" />
<clipPath id="cpg"><rect x="233.8" y="376.1" width="104" height="86"/></clipPath>
<g clip-path="url(#cpg)">
<polygon points="237.90,430.95 244.70,457.50 251.50,457.50 258.30,457.50 265.10,457.50 271.90,457.50 278.70,457.50 285.50,457.50 292.30,457.50 299.10,451.60 305.90,404.40 312.70,391.12 319.50,383.75 326.30,375.64 333.10,375.64 333.10,416.20 326.30,417.68 319.50,422.10 312.70,426.52 305.90,442.75 299.10,454.55 292.30,457.50 285.50,457.50 278.70,457.50 271.90,457.50 265.10,457.50 258.30,457.50 251.50,457.50 244.70,457.50 237.90,453.07" fill="#e6550d" fill-opacity="0.3" stroke="none"/>
</g>
<polyline points="237.90,443.93 244.70,457.50 251.50,457.50 258.30,457.50 265.10,457.50 271.90,457.50 278.70,457.50 285.50,457.50 292.30,457.50 299.10,453.07 305.90,425.79 312.70,408.82 319.50,403.66 326.30,397.76 333.10,397.02" fill="none" stroke="#e6550d" stroke-width="1.6" stroke-dasharray="4.5 2.2" stroke-linejoin="round" />
<polyline points="295.70,457.50 333.10,457.50" fill="none" stroke="#e6550d" stroke-width="1.5" stroke-dasharray="4 1.5 1.3 1.5" stroke-linejoin="round" />
<line x1="233.80" y1="376.10" x2="233.80" y2="461.80" stroke="#1e1e1e" stroke-width="1.1" stroke-linecap="square"/>
<line x1="233.80" y1="461.80" x2="337.60" y2="461.80" stroke="#1e1e1e" stroke-width="1.1" stroke-linecap="square"/>
<line x1="230.30" y1="457.50" x2="233.80" y2="457.50" stroke="#000" stroke-width="0.9" />
<text transform="translate(226.80,461.70) scale(1.09,1)" font-size="10.45" text-anchor="end" fill="#000" font-weight="normal" >0%</text>
<line x1="230.30" y1="428.00" x2="233.80" y2="428.00" stroke="#000" stroke-width="0.9" />
<text transform="translate(226.80,432.20) scale(1.09,1)" font-size="10.45" text-anchor="end" fill="#000" font-weight="normal" >20%</text>
<line x1="230.30" y1="398.50" x2="233.80" y2="398.50" stroke="#000" stroke-width="0.9" />
<text transform="translate(226.80,402.70) scale(1.09,1)" font-size="10.45" text-anchor="end" fill="#000" font-weight="normal" >40%</text>
<line x1="265.10" y1="461.80" x2="265.10" y2="465.30" stroke="#000" stroke-width="0.9" />
<text transform="translate(265.10,476.80) scale(1.09,1)" font-size="10.45" text-anchor="middle" fill="#000" font-weight="normal" >1</text>
<line x1="299.10" y1="461.80" x2="299.10" y2="465.30" stroke="#000" stroke-width="0.9" />
<text transform="translate(299.10,476.80) scale(1.09,1)" font-size="10.45" text-anchor="middle" fill="#000" font-weight="normal" >2</text>
<line x1="333.10" y1="461.80" x2="333.10" y2="465.30" stroke="#000" stroke-width="0.9" />
<text transform="translate(333.10,476.80) scale(1.09,1)" font-size="10.45" text-anchor="middle" fill="#000" font-weight="normal" >3</text>
<text transform="translate(198.00,419.00) rotate(-90) scale(1.09,1)" font-size="12.54" text-anchor="middle" fill="#000" font-weight="normal" >error (%)</text>
<text transform="translate(285.50,491.20) scale(1.09,1)" font-size="12.54" text-anchor="middle" fill="#000" font-weight="normal" >time (s)</text>
<text transform="translate(346.2,373.7) scale(1.14,1)" font-size="12.8" font-weight="bold" fill="#000">h</text>
<line x1="406.20" y1="402.75" x2="678.60" y2="402.75" stroke="#555" stroke-width="1.0" stroke-dasharray="1.5 2.5" />
<line x1="406.20" y1="376.30" x2="406.20" y2="462.00" stroke="#1e1e1e" stroke-width="1.1" stroke-linecap="square"/>
<line x1="406.20" y1="462.00" x2="678.60" y2="462.00" stroke="#1e1e1e" stroke-width="1.1" stroke-linecap="square"/>
<line x1="402.70" y1="458.50" x2="406.20" y2="458.50" stroke="#000" stroke-width="0.9" />
<text transform="translate(399.20,462.70) scale(1.09,1)" font-size="10.45" text-anchor="end" fill="#000" font-weight="normal" >0%</text>
<line x1="402.70" y1="436.20" x2="406.20" y2="436.20" stroke="#000" stroke-width="0.9" />
<text transform="translate(399.20,440.40) scale(1.09,1)" font-size="10.45" text-anchor="end" fill="#000" font-weight="normal" >20%</text>
<line x1="402.70" y1="413.90" x2="406.20" y2="413.90" stroke="#000" stroke-width="0.9" />
<text transform="translate(399.20,418.10) scale(1.09,1)" font-size="10.45" text-anchor="end" fill="#000" font-weight="normal" >40%</text>
<line x1="402.70" y1="391.60" x2="406.20" y2="391.60" stroke="#000" stroke-width="0.9" />
<text transform="translate(399.20,395.80) scale(1.09,1)" font-size="10.45" text-anchor="end" fill="#000" font-weight="normal" >60%</text>
<line x1="418.30" y1="462.00" x2="418.30" y2="465.50" stroke="#000" stroke-width="0.9" />
<text transform="translate(418.30,476.50) scale(1.09,1)" font-size="10.45" text-anchor="middle" fill="#000" font-weight="normal" >control</text>
<line x1="480.60" y1="462.00" x2="480.60" y2="465.50" stroke="#000" stroke-width="0.9" />
<text transform="translate(480.60,476.50) scale(1.09,1)" font-size="10.45" text-anchor="middle" fill="#000" font-weight="normal" >start</text>
<line x1="542.90" y1="462.00" x2="542.90" y2="465.50" stroke="#000" stroke-width="0.9" />
<text transform="translate(542.90,476.50) scale(1.09,1)" font-size="10.45" text-anchor="middle" fill="#000" font-weight="normal" >middle</text>
<line x1="605.20" y1="462.00" x2="605.20" y2="465.50" stroke="#000" stroke-width="0.9" />
<text transform="translate(605.20,476.50) scale(1.09,1)" font-size="10.45" text-anchor="middle" fill="#000" font-weight="normal" >end</text>
<line x1="667.50" y1="462.00" x2="667.50" y2="465.50" stroke="#000" stroke-width="0.9" />
<text transform="translate(667.50,476.50) scale(1.09,1)" font-size="10.45" text-anchor="middle" fill="#000" font-weight="normal" >full</text>
<text transform="translate(542.00,493.00) scale(1.09,1)" font-size="12.54" text-anchor="middle" fill="#000" font-weight="normal" >ablation period</text>
<polyline points="418.30,450.14 480.60,408.33 542.90,411.89 605.20,406.10 667.50,402.19" fill="none" stroke="#e6550d" stroke-width="1.6" stroke-linejoin="round" />
<polyline points="418.30,458.50 480.60,424.38 542.90,429.51 605.20,419.48 667.50,402.19" fill="none" stroke="#e6550d" stroke-width="1.6" stroke-dasharray="5 2.5" stroke-linejoin="round" />
<polyline points="418.30,458.50 480.60,444.12 542.90,458.50 605.20,458.50 667.50,442.89" fill="none" stroke="#e6550d" stroke-width="1.6" stroke-dasharray="1.6 2.6" stroke-linejoin="round" />
<line x1="418.30" y1="448.47" x2="418.30" y2="452.37" stroke="#e6550d" stroke-width="1.2" />
<line x1="416.00" y1="448.47" x2="420.60" y2="448.47" stroke="#e6550d" stroke-width="1.2" />
<line x1="416.00" y1="452.37" x2="420.60" y2="452.37" stroke="#e6550d" stroke-width="1.2" />
<line x1="480.60" y1="403.87" x2="480.60" y2="413.90" stroke="#e6550d" stroke-width="1.2" />
<line x1="478.30" y1="403.87" x2="482.90" y2="403.87" stroke="#e6550d" stroke-width="1.2" />
<line x1="478.30" y1="413.90" x2="482.90" y2="413.90" stroke="#e6550d" stroke-width="1.2" />
<line x1="480.60" y1="416.13" x2="480.60" y2="433.97" stroke="#e6550d" stroke-width="1.2" />
<line x1="478.30" y1="416.13" x2="482.90" y2="416.13" stroke="#e6550d" stroke-width="1.2" />
<line x1="478.30" y1="433.97" x2="482.90" y2="433.97" stroke="#e6550d" stroke-width="1.2" />
<line x1="480.60" y1="433.97" x2="480.60" y2="454.04" stroke="#e6550d" stroke-width="1.2" />
<line x1="478.30" y1="433.97" x2="482.90" y2="433.97" stroke="#e6550d" stroke-width="1.2" />
<line x1="478.30" y1="454.04" x2="482.90" y2="454.04" stroke="#e6550d" stroke-width="1.2" />
<line x1="542.90" y1="403.87" x2="542.90" y2="420.03" stroke="#e6550d" stroke-width="1.2" />
<line x1="540.60" y1="403.87" x2="545.20" y2="403.87" stroke="#e6550d" stroke-width="1.2" />
<line x1="540.60" y1="420.03" x2="545.20" y2="420.03" stroke="#e6550d" stroke-width="1.2" />
<line x1="542.90" y1="420.03" x2="542.90" y2="448.13" stroke="#e6550d" stroke-width="1.2" />
<line x1="540.60" y1="420.03" x2="545.20" y2="420.03" stroke="#e6550d" stroke-width="1.2" />
<line x1="540.60" y1="448.13" x2="545.20" y2="448.13" stroke="#e6550d" stroke-width="1.2" />
<line x1="605.20" y1="400.97" x2="605.20" y2="409.44" stroke="#e6550d" stroke-width="1.2" />
<line x1="602.90" y1="400.97" x2="607.50" y2="400.97" stroke="#e6550d" stroke-width="1.2" />
<line x1="602.90" y1="409.44" x2="607.50" y2="409.44" stroke="#e6550d" stroke-width="1.2" />
<line x1="605.20" y1="413.90" x2="605.20" y2="434.08" stroke="#e6550d" stroke-width="1.2" />
<line x1="602.90" y1="413.90" x2="607.50" y2="413.90" stroke="#e6550d" stroke-width="1.2" />
<line x1="602.90" y1="434.08" x2="607.50" y2="434.08" stroke="#e6550d" stroke-width="1.2" />
<line x1="667.50" y1="433.30" x2="667.50" y2="452.03" stroke="#e6550d" stroke-width="1.2" />
<line x1="665.20" y1="433.30" x2="669.80" y2="433.30" stroke="#e6550d" stroke-width="1.2" />
<line x1="665.20" y1="452.03" x2="669.80" y2="452.03" stroke="#e6550d" stroke-width="1.2" />
<line x1="418.30" y1="428.40" x2="418.30" y2="436.20" stroke="#000" stroke-width="1.5" />
<line x1="416.00" y1="428.40" x2="420.60" y2="428.40" stroke="#000" stroke-width="1.5" />
<line x1="416.00" y1="436.20" x2="420.60" y2="436.20" stroke="#000" stroke-width="1.5" />
<line x1="480.60" y1="413.90" x2="480.60" y2="424.38" stroke="#000" stroke-width="1.5" />
<line x1="478.30" y1="413.90" x2="482.90" y2="413.90" stroke="#000" stroke-width="1.5" />
<line x1="478.30" y1="424.38" x2="482.90" y2="424.38" stroke="#000" stroke-width="1.5" />
<line x1="605.20" y1="412.79" x2="605.20" y2="426.17" stroke="#000" stroke-width="1.5" />
<line x1="602.90" y1="412.79" x2="607.50" y2="412.79" stroke="#000" stroke-width="1.5" />
<line x1="602.90" y1="426.17" x2="607.50" y2="426.17" stroke="#000" stroke-width="1.5" />
<line x1="667.50" y1="379.89" x2="667.50" y2="423.94" stroke="#000" stroke-width="1.5" />
<line x1="665.20" y1="379.89" x2="669.80" y2="379.89" stroke="#000" stroke-width="1.5" />
<line x1="665.20" y1="423.94" x2="669.80" y2="423.94" stroke="#000" stroke-width="1.5" />
<line x1="424.60" y1="384.40" x2="424.60" y2="394.20" stroke="#000" stroke-width="1.5" />
<line x1="422.30" y1="384.40" x2="426.90" y2="384.40" stroke="#000" stroke-width="1.5" />
<line x1="422.30" y1="394.20" x2="426.90" y2="394.20" stroke="#000" stroke-width="1.5" />
<text transform="translate(442.50,392.80) scale(1.09,1)" font-size="10.45" text-anchor="start" fill="#000" font-weight="normal" >data</text>
<text transform="translate(371.00,419.00) rotate(-90) scale(1.09,1)" font-size="12.54" text-anchor="middle" fill="#000" font-weight="normal" >error (%)</text>
<text transform="translate(6.8,507.3) scale(1.14,1)" font-size="12.8" font-weight="bold" fill="#000">i</text>
<line x1="65.60" y1="520.00" x2="185.80" y2="520.00" stroke="#333" stroke-width="1.0" stroke-dasharray="1.5 2.5" />
<polyline points="70.90,579.50 126.50,578.31 182.10,527.74" fill="none" stroke="#222" stroke-width="0.9" stroke-linejoin="round" />
<polyline points="70.90,580.39 126.50,581.28 182.10,520.00" fill="none" stroke="#a8d6e8" stroke-width="1.7" stroke-linejoin="round" />
<line x1="70.90" y1="572.81" x2="70.90" y2="585.00" stroke="#e6550d" stroke-width="1.3" />
<line x1="68.60" y1="572.81" x2="73.20" y2="572.81" stroke="#e6550d" stroke-width="1.3" />
<line x1="68.60" y1="585.00" x2="73.20" y2="585.00" stroke="#e6550d" stroke-width="1.3" />
<line x1="126.50" y1="576.23" x2="126.50" y2="578.31" stroke="#e6550d" stroke-width="1.3" />
<line x1="124.20" y1="576.23" x2="128.80" y2="576.23" stroke="#e6550d" stroke-width="1.3" />
<line x1="124.20" y1="578.31" x2="128.80" y2="578.31" stroke="#e6550d" stroke-width="1.3" />
<line x1="182.10" y1="522.38" x2="182.10" y2="530.56" stroke="#e6550d" stroke-width="1.3" />
<line x1="179.80" y1="522.38" x2="184.40" y2="522.38" stroke="#e6550d" stroke-width="1.3" />
<line x1="179.80" y1="530.56" x2="184.40" y2="530.56" stroke="#e6550d" stroke-width="1.3" />
<line x1="70.90" y1="576.23" x2="70.90" y2="583.52" stroke="#a8d6e8" stroke-width="1.3" />
<line x1="68.60" y1="576.23" x2="73.20" y2="576.23" stroke="#a8d6e8" stroke-width="1.3" />
<line x1="68.60" y1="583.52" x2="73.20" y2="583.52" stroke="#a8d6e8" stroke-width="1.3" />
<line x1="126.50" y1="560.91" x2="126.50" y2="602.56" stroke="#a8d6e8" stroke-width="1.3" />
<line x1="124.20" y1="560.91" x2="128.80" y2="560.91" stroke="#a8d6e8" stroke-width="1.3" />
<line x1="124.20" y1="602.56" x2="128.80" y2="602.56" stroke="#a8d6e8" stroke-width="1.3" />
<line x1="182.10" y1="518.81" x2="182.10" y2="521.19" stroke="#a8d6e8" stroke-width="1.3" />
<line x1="179.80" y1="518.81" x2="184.40" y2="518.81" stroke="#a8d6e8" stroke-width="1.3" />
<line x1="179.80" y1="521.19" x2="184.40" y2="521.19" stroke="#a8d6e8" stroke-width="1.3" />
<line x1="65.60" y1="516.30" x2="65.60" y2="606.00" stroke="#1e1e1e" stroke-width="1.1" stroke-linecap="square"/>
<line x1="65.60" y1="606.00" x2="188.30" y2="606.00" stroke="#1e1e1e" stroke-width="1.1" stroke-linecap="square"/>
<line x1="62.10" y1="520.00" x2="65.60" y2="520.00" stroke="#000" stroke-width="0.9" />
<text transform="translate(58.60,524.20) scale(1.09,1)" font-size="10.45" text-anchor="end" fill="#000" font-weight="normal" >0%</text>
<line x1="62.10" y1="549.75" x2="65.60" y2="549.75" stroke="#000" stroke-width="0.9" />
<text transform="translate(58.60,553.95) scale(1.09,1)" font-size="10.45" text-anchor="end" fill="#000" font-weight="normal" >−20%</text>
<line x1="62.10" y1="579.50" x2="65.60" y2="579.50" stroke="#000" stroke-width="0.9" />
<text transform="translate(58.60,583.70) scale(1.09,1)" font-size="10.45" text-anchor="end" fill="#000" font-weight="normal" >−40%</text>
<line x1="70.90" y1="606.00" x2="70.90" y2="609.50" stroke="#000" stroke-width="0.9" />
<line x1="126.50" y1="606.00" x2="126.50" y2="609.50" stroke="#000" stroke-width="0.9" />
<line x1="182.10" y1="606.00" x2="182.10" y2="609.50" stroke="#000" stroke-width="0.9" />
<text transform="translate(70.90,621.20) scale(1.09,1)" font-size="10.45" text-anchor="middle" fill="#000" font-weight="normal" >fixed</text>
<text transform="translate(70.90,632.20) scale(1.09,1)" font-size="10.45" text-anchor="middle" fill="#000" font-weight="normal" >RNN</text>
<text transform="translate(126.50,621.20) scale(1.09,1)" font-size="10.45" text-anchor="middle" fill="#000" font-weight="normal" >input</text>
<text transform="translate(126.50,632.20) scale(1.09,1)" font-size="10.45" text-anchor="middle" fill="#000" font-weight="normal" >plastic</text>
<text transform="translate(182.10,621.20) scale(1.09,1)" font-size="10.45" text-anchor="middle" fill="#000" font-weight="normal" >fully</text>
<text transform="translate(182.10,632.20) scale(1.09,1)" font-size="10.45" text-anchor="middle" fill="#000" font-weight="normal" >plastic</text>
<text transform="translate(117.30,647.00) scale(1.09,1)" font-size="12.54" text-anchor="middle" fill="#000" font-weight="normal" >cortical plasticity</text>
<path d="M172.3,642.6 L182.6,642.6 M179.2,639.6 L182.8,642.6 L179.2,645.6" fill="none" stroke="#000" stroke-width="0.9"/>
<text transform="translate(22.50,562.00) rotate(-90) scale(1.09,1)" font-size="12.54" text-anchor="middle" fill="#000" font-weight="normal" >Δ error (%)</text>
<line x1="70.20" y1="520.20" x2="86.40" y2="520.20" stroke="#222" stroke-width="0.9" />
<line x1="78.20" y1="515.90" x2="78.20" y2="526.30" stroke="#e6550d" stroke-width="1.3" />
<line x1="75.90" y1="515.90" x2="80.50" y2="515.90" stroke="#e6550d" stroke-width="1.3" />
<line x1="75.90" y1="526.30" x2="80.50" y2="526.30" stroke="#e6550d" stroke-width="1.3" />
<line x1="70.20" y1="546.60" x2="86.40" y2="546.60" stroke="#a8d6e8" stroke-width="1.7" />
<line x1="78.20" y1="541.50" x2="78.20" y2="552.00" stroke="#a8d6e8" stroke-width="1.3" />
<line x1="75.90" y1="541.50" x2="80.50" y2="541.50" stroke="#a8d6e8" stroke-width="1.3" />
<line x1="75.90" y1="552.00" x2="80.50" y2="552.00" stroke="#a8d6e8" stroke-width="1.3" />
<text transform="translate(94.00,518.70) scale(1.09,1)" font-size="10.45" text-anchor="start" fill="#000" font-weight="normal" >during</text>
<text transform="translate(94.00,529.60) scale(1.09,1)" font-size="10.45" text-anchor="start" fill="#000" font-weight="normal" >training</text>
<text transform="translate(94.00,544.20) scale(1.09,1)" font-size="10.45" text-anchor="start" fill="#000" font-weight="normal" >after</text>
<text transform="translate(94.00,555.40) scale(1.09,1)" font-size="10.45" text-anchor="start" fill="#000" font-weight="normal" >training</text>
<text transform="translate(201.2,507.5) scale(1.14,1)" font-size="12.8" font-weight="bold" fill="#000">j</text>
<line x1="290.00" y1="587.02" x2="290.00" y2="599.01" stroke="#fdb07a" stroke-width="1.3" />
<line x1="287.80" y1="587.02" x2="292.20" y2="587.02" stroke="#fdb07a" stroke-width="1.3" />
<line x1="287.80" y1="599.01" x2="292.20" y2="599.01" stroke="#fdb07a" stroke-width="1.3" />
<line x1="318.80" y1="567.28" x2="318.80" y2="580.01" stroke="#fdb07a" stroke-width="1.3" />
<line x1="316.60" y1="567.28" x2="321.00" y2="567.28" stroke="#fdb07a" stroke-width="1.3" />
<line x1="316.60" y1="580.01" x2="321.00" y2="580.01" stroke="#fdb07a" stroke-width="1.3" />
<line x1="347.60" y1="544.58" x2="347.60" y2="564.14" stroke="#fdb07a" stroke-width="1.3" />
<line x1="345.40" y1="544.58" x2="349.80" y2="544.58" stroke="#fdb07a" stroke-width="1.3" />
<line x1="345.40" y1="564.14" x2="349.80" y2="564.14" stroke="#fdb07a" stroke-width="1.3" />
<line x1="376.40" y1="527.61" x2="376.40" y2="570.97" stroke="#fdb07a" stroke-width="1.3" />
<line x1="374.20" y1="527.61" x2="378.60" y2="527.61" stroke="#fdb07a" stroke-width="1.3" />
<line x1="374.20" y1="570.97" x2="378.60" y2="570.97" stroke="#fdb07a" stroke-width="1.3" />
<line x1="405.20" y1="520.60" x2="405.20" y2="537.20" stroke="#fdb07a" stroke-width="1.3" />
<line x1="403.00" y1="520.60" x2="407.40" y2="520.60" stroke="#fdb07a" stroke-width="1.3" />
<line x1="403.00" y1="537.20" x2="407.40" y2="537.20" stroke="#fdb07a" stroke-width="1.3" />
<polyline points="261.20,602.70 290.00,592.92 318.80,573.73 347.60,554.36 376.40,540.52 405.20,528.53" fill="none" stroke="#fdb07a" stroke-width="1.6" stroke-linejoin="round" />
<line x1="290.00" y1="596.24" x2="290.00" y2="599.93" stroke="#f78a4c" stroke-width="1.3" />
<line x1="287.80" y1="596.24" x2="292.20" y2="596.24" stroke="#f78a4c" stroke-width="1.3" />
<line x1="287.80" y1="599.93" x2="292.20" y2="599.93" stroke="#f78a4c" stroke-width="1.3" />
<line x1="318.80" y1="591.63" x2="318.80" y2="598.09" stroke="#f78a4c" stroke-width="1.3" />
<line x1="316.60" y1="591.63" x2="321.00" y2="591.63" stroke="#f78a4c" stroke-width="1.3" />
<line x1="316.60" y1="598.09" x2="321.00" y2="598.09" stroke="#f78a4c" stroke-width="1.3" />
<line x1="347.60" y1="565.80" x2="347.60" y2="581.48" stroke="#f78a4c" stroke-width="1.3" />
<line x1="345.40" y1="565.80" x2="349.80" y2="565.80" stroke="#f78a4c" stroke-width="1.3" />
<line x1="345.40" y1="581.48" x2="349.80" y2="581.48" stroke="#f78a4c" stroke-width="1.3" />
<line x1="376.40" y1="541.81" x2="376.40" y2="571.33" stroke="#f78a4c" stroke-width="1.3" />
<line x1="374.20" y1="541.81" x2="378.60" y2="541.81" stroke="#f78a4c" stroke-width="1.3" />
<line x1="374.20" y1="571.33" x2="378.60" y2="571.33" stroke="#f78a4c" stroke-width="1.3" />
<line x1="405.20" y1="538.12" x2="405.20" y2="562.11" stroke="#f78a4c" stroke-width="1.3" />
<line x1="403.00" y1="538.12" x2="407.40" y2="538.12" stroke="#f78a4c" stroke-width="1.3" />
<line x1="403.00" y1="562.11" x2="407.40" y2="562.11" stroke="#f78a4c" stroke-width="1.3" />
<polyline points="261.20,602.70 290.00,598.09 318.80,594.95 347.60,573.73 376.40,556.21 405.20,549.75" fill="none" stroke="#f78a4c" stroke-width="1.6" stroke-linejoin="round" />
<line x1="318.80" y1="597.17" x2="318.80" y2="600.86" stroke="#e25812" stroke-width="1.3" />
<line x1="316.60" y1="597.17" x2="321.00" y2="597.17" stroke="#e25812" stroke-width="1.3" />
<line x1="316.60" y1="600.86" x2="321.00" y2="600.86" stroke="#e25812" stroke-width="1.3" />
<line x1="347.60" y1="586.10" x2="347.60" y2="594.40" stroke="#e25812" stroke-width="1.3" />
<line x1="345.40" y1="586.10" x2="349.80" y2="586.10" stroke="#e25812" stroke-width="1.3" />
<line x1="345.40" y1="594.40" x2="349.80" y2="594.40" stroke="#e25812" stroke-width="1.3" />
<line x1="376.40" y1="541.81" x2="376.40" y2="567.64" stroke="#e25812" stroke-width="1.3" />
<line x1="374.20" y1="541.81" x2="378.60" y2="541.81" stroke="#e25812" stroke-width="1.3" />
<line x1="374.20" y1="567.64" x2="378.60" y2="567.64" stroke="#e25812" stroke-width="1.3" />
<line x1="405.20" y1="534.43" x2="405.20" y2="558.42" stroke="#e25812" stroke-width="1.3" />
<line x1="403.00" y1="534.43" x2="407.40" y2="534.43" stroke="#e25812" stroke-width="1.3" />
<line x1="403.00" y1="558.42" x2="407.40" y2="558.42" stroke="#e25812" stroke-width="1.3" />
<polyline points="261.20,602.70 290.00,600.86 318.80,599.01 347.60,590.34 376.40,555.28 405.20,546.98" fill="none" stroke="#e25812" stroke-width="1.6" stroke-linejoin="round" />
<line x1="376.40" y1="581.48" x2="376.40" y2="588.86" stroke="#a63f0c" stroke-width="1.3" />
<line x1="374.20" y1="581.48" x2="378.60" y2="581.48" stroke="#a63f0c" stroke-width="1.3" />
<line x1="374.20" y1="588.86" x2="378.60" y2="588.86" stroke="#a63f0c" stroke-width="1.3" />
<line x1="405.20" y1="554.73" x2="405.20" y2="575.02" stroke="#a63f0c" stroke-width="1.3" />
<line x1="403.00" y1="554.73" x2="407.40" y2="554.73" stroke="#a63f0c" stroke-width="1.3" />
<line x1="403.00" y1="575.02" x2="407.40" y2="575.02" stroke="#a63f0c" stroke-width="1.3" />
<polyline points="261.20,602.70 290.00,602.15 318.80,601.22 347.60,599.19 376.40,585.73 405.20,565.25" fill="none" stroke="#a63f0c" stroke-width="1.6" stroke-linejoin="round" />
<line x1="253.80" y1="516.20" x2="253.80" y2="606.20" stroke="#1e1e1e" stroke-width="1.1" stroke-linecap="square"/>
<line x1="253.80" y1="606.20" x2="412.60" y2="606.20" stroke="#1e1e1e" stroke-width="1.1" stroke-linecap="square"/>
<line x1="250.30" y1="602.70" x2="253.80" y2="602.70" stroke="#000" stroke-width="0.9" />
<text transform="translate(246.80,606.90) scale(1.09,1)" font-size="10.45" text-anchor="end" fill="#000" font-weight="normal" >0%</text>
<line x1="250.30" y1="565.80" x2="253.80" y2="565.80" stroke="#000" stroke-width="0.9" />
<text transform="translate(246.80,570.00) scale(1.09,1)" font-size="10.45" text-anchor="end" fill="#000" font-weight="normal" >20%</text>
<line x1="261.20" y1="606.20" x2="261.20" y2="609.70" stroke="#000" stroke-width="0.9" />
<text transform="translate(261.20,620.50) scale(1.09,1)" font-size="10.45" text-anchor="middle" fill="#000" font-weight="normal" >2.00</text>
<line x1="297.20" y1="606.20" x2="297.20" y2="609.70" stroke="#000" stroke-width="0.9" />
<text transform="translate(297.20,620.50) scale(1.09,1)" font-size="10.45" text-anchor="middle" fill="#000" font-weight="normal" >2.25</text>
<line x1="333.20" y1="606.20" x2="333.20" y2="609.70" stroke="#000" stroke-width="0.9" />
<text transform="translate(333.20,620.50) scale(1.09,1)" font-size="10.45" text-anchor="middle" fill="#000" font-weight="normal" >2.50</text>
<line x1="369.20" y1="606.20" x2="369.20" y2="609.70" stroke="#000" stroke-width="0.9" />
<text transform="translate(369.20,620.50) scale(1.09,1)" font-size="10.45" text-anchor="middle" fill="#000" font-weight="normal" >2.75</text>
<line x1="405.20" y1="606.20" x2="405.20" y2="609.70" stroke="#000" stroke-width="0.9" />
<text transform="translate(405.20,620.50) scale(1.09,1)" font-size="10.45" text-anchor="middle" fill="#000" font-weight="normal" >3.00</text>
<text transform="translate(333.20,635.50) scale(1.09,1)" font-size="12.54" text-anchor="middle" fill="#000" font-weight="normal" >task length (s)</text>
<text transform="translate(218.00,561.30) rotate(-90) scale(1.09,1)" font-size="12.54" text-anchor="middle" fill="#000" font-weight="normal" >error (%)</text>
<line x1="257.30" y1="512.30" x2="278.50" y2="512.30" stroke="#fdb07a" stroke-width="1.6" />
<line x1="267.70" y1="507.30" x2="267.70" y2="517.30" stroke="#fdb07a" stroke-width="1.3" />
<line x1="265.50" y1="507.30" x2="269.90" y2="507.30" stroke="#fdb07a" stroke-width="1.3" />
<line x1="265.50" y1="517.30" x2="269.90" y2="517.30" stroke="#fdb07a" stroke-width="1.3" />
<text transform="translate(286.20,515.90) scale(1.09,1)" font-size="10.45" text-anchor="start" fill="#000" font-weight="normal" >50 GCs</text>
<line x1="257.30" y1="527.10" x2="278.50" y2="527.10" stroke="#f78a4c" stroke-width="1.6" />
<line x1="267.70" y1="522.10" x2="267.70" y2="532.10" stroke="#f78a4c" stroke-width="1.3" />
<line x1="265.50" y1="522.10" x2="269.90" y2="522.10" stroke="#f78a4c" stroke-width="1.3" />
<line x1="265.50" y1="532.10" x2="269.90" y2="532.10" stroke="#f78a4c" stroke-width="1.3" />
<text transform="translate(286.20,530.70) scale(1.09,1)" font-size="10.45" text-anchor="start" fill="#000" font-weight="normal" >100 GCs</text>
<line x1="257.30" y1="541.70" x2="278.50" y2="541.70" stroke="#e25812" stroke-width="1.6" />
<line x1="267.70" y1="536.70" x2="267.70" y2="546.70" stroke="#e25812" stroke-width="1.3" />
<line x1="265.50" y1="536.70" x2="269.90" y2="536.70" stroke="#e25812" stroke-width="1.3" />
<line x1="265.50" y1="546.70" x2="269.90" y2="546.70" stroke="#e25812" stroke-width="1.3" />
<text transform="translate(286.20,545.30) scale(1.09,1)" font-size="10.45" text-anchor="start" fill="#000" font-weight="normal" >1000 GCs</text>
<line x1="257.30" y1="556.50" x2="278.50" y2="556.50" stroke="#a63f0c" stroke-width="1.6" />
<line x1="267.70" y1="551.50" x2="267.70" y2="561.50" stroke="#a63f0c" stroke-width="1.3" />
<line x1="265.50" y1="551.50" x2="269.90" y2="551.50" stroke="#a63f0c" stroke-width="1.3" />
<line x1="265.50" y1="561.50" x2="269.90" y2="561.50" stroke="#a63f0c" stroke-width="1.3" />
<text transform="translate(286.20,560.10) scale(1.09,1)" font-size="10.45" text-anchor="start" fill="#000" font-weight="normal" >10000 GCs</text>
<text transform="translate(429.8,507.5) scale(1.14,1)" font-size="12.8" font-weight="bold" fill="#000">k</text>
<polygon points="500.17,522.20 508.83,524.00 517.50,520.60 526.17,524.00 534.83,536.00 543.50,538.00 552.17,550.50 560.83,557.00 569.50,563.50 578.17,564.50 586.83,570.00 595.50,568.90 604.17,573.50 612.83,573.60 621.50,573.60 621.50,594.60 612.83,591.00 604.17,588.00 595.50,578.50 586.83,584.00 578.17,577.50 569.50,577.00 560.83,569.00 552.17,561.50 543.50,549.00 534.83,548.50 526.17,537.40 517.50,530.50 508.83,534.00 500.17,532.70" fill="#dcdcdc" fill-opacity="1.0" stroke="none"/>
<polyline points="500.17,526.90 508.83,529.90 517.50,525.20 526.17,529.90 534.83,542.70 543.50,542.70 552.17,556.80 560.83,563.10 569.50,570.50 578.17,570.50 586.83,577.10 595.50,572.90 604.17,580.60 612.83,581.80 621.50,581.30" fill="none" stroke="#7a7a7a" stroke-width="1.6" stroke-linejoin="round" />
<polyline points="500.17,602.10 508.83,602.10 517.50,602.10 526.17,602.10 534.83,602.10 543.50,602.10 552.17,580.10 560.83,557.20 569.50,539.20 578.17,531.10 586.83,527.60 595.50,524.10 604.17,524.10 612.83,519.90 621.50,524.10" fill="none" stroke="#e6550d" stroke-width="1.5" stroke-linejoin="round" />
<path d="M497.37,599.30 L502.97,604.90 M497.37,604.90 L502.97,599.30" stroke="#e6550d" stroke-width="1.3" fill="none"/>
<path d="M506.03,599.30 L511.63,604.90 M506.03,604.90 L511.63,599.30" stroke="#e6550d" stroke-width="1.3" fill="none"/>
<path d="M514.70,599.30 L520.30,604.90 M514.70,604.90 L520.30,599.30" stroke="#e6550d" stroke-width="1.3" fill="none"/>
<path d="M523.37,599.30 L528.97,604.90 M523.37,604.90 L528.97,599.30" stroke="#e6550d" stroke-width="1.3" fill="none"/>
<path d="M532.03,599.30 L537.63,604.90 M532.03,604.90 L537.63,599.30" stroke="#e6550d" stroke-width="1.3" fill="none"/>
<path d="M540.70,599.30 L546.30,604.90 M540.70,604.90 L546.30,599.30" stroke="#e6550d" stroke-width="1.3" fill="none"/>
<path d="M549.37,577.30 L554.97,582.90 M549.37,582.90 L554.97,577.30" stroke="#e6550d" stroke-width="1.3" fill="none"/>
<path d="M558.03,554.40 L563.63,560.00 M558.03,560.00 L563.63,554.40" stroke="#e6550d" stroke-width="1.3" fill="none"/>
<path d="M566.70,536.40 L572.30,542.00 M566.70,542.00 L572.30,536.40" stroke="#e6550d" stroke-width="1.3" fill="none"/>
<path d="M575.37,528.30 L580.97,533.90 M575.37,533.90 L580.97,528.30" stroke="#e6550d" stroke-width="1.3" fill="none"/>
<path d="M584.03,524.80 L589.63,530.40 M584.03,530.40 L589.63,524.80" stroke="#e6550d" stroke-width="1.3" fill="none"/>
<path d="M592.70,521.30 L598.30,526.90 M592.70,526.90 L598.30,521.30" stroke="#e6550d" stroke-width="1.3" fill="none"/>
<path d="M601.37,521.30 L606.97,526.90 M601.37,526.90 L606.97,521.30" stroke="#e6550d" stroke-width="1.3" fill="none"/>
<path d="M610.03,517.10 L615.63,522.70 M610.03,522.70 L615.63,517.10" stroke="#e6550d" stroke-width="1.3" fill="none"/>
<path d="M618.70,521.30 L624.30,526.90 M618.70,526.90 L624.30,521.30" stroke="#e6550d" stroke-width="1.3" fill="none"/>
<line x1="491.50" y1="516.20" x2="491.50" y2="606.20" stroke="#000" stroke-width="1.1" />
<line x1="491.50" y1="606.20" x2="621.50" y2="606.20" stroke="#000" stroke-width="1.1" />
<line x1="621.50" y1="516.20" x2="621.50" y2="606.20" stroke="#000" stroke-width="1.1" />
<line x1="489.50" y1="589.39" x2="491.50" y2="589.39" stroke="#000" stroke-width="0.7" />
<line x1="489.50" y1="581.61" x2="491.50" y2="581.61" stroke="#000" stroke-width="0.7" />
<line x1="489.50" y1="576.09" x2="491.50" y2="576.09" stroke="#000" stroke-width="0.7" />
<line x1="489.50" y1="571.81" x2="491.50" y2="571.81" stroke="#000" stroke-width="0.7" />
<line x1="489.50" y1="568.31" x2="491.50" y2="568.31" stroke="#000" stroke-width="0.7" />
<line x1="489.50" y1="565.35" x2="491.50" y2="565.35" stroke="#000" stroke-width="0.7" />
<line x1="489.50" y1="562.78" x2="491.50" y2="562.78" stroke="#000" stroke-width="0.7" />
<line x1="489.50" y1="560.52" x2="491.50" y2="560.52" stroke="#000" stroke-width="0.7" />
<line x1="489.50" y1="545.19" x2="491.50" y2="545.19" stroke="#000" stroke-width="0.7" />
<line x1="489.50" y1="537.41" x2="491.50" y2="537.41" stroke="#000" stroke-width="0.7" />
<line x1="489.50" y1="531.89" x2="491.50" y2="531.89" stroke="#000" stroke-width="0.7" />
<line x1="489.50" y1="527.61" x2="491.50" y2="527.61" stroke="#000" stroke-width="0.7" />
<line x1="489.50" y1="524.11" x2="491.50" y2="524.11" stroke="#000" stroke-width="0.7" />
<line x1="489.50" y1="521.15" x2="491.50" y2="521.15" stroke="#000" stroke-width="0.7" />
<line x1="489.50" y1="518.58" x2="491.50" y2="518.58" stroke="#000" stroke-width="0.7" />
<line x1="489.50" y1="516.32" x2="491.50" y2="516.32" stroke="#000" stroke-width="0.7" />
<line x1="488.00" y1="558.50" x2="491.50" y2="558.50" stroke="#000" stroke-width="0.9" />
<line x1="488.00" y1="602.70" x2="491.50" y2="602.70" stroke="#000" stroke-width="0.9" />
<text transform="translate(473.00,562.20) scale(1.09,1)" font-size="10.45" text-anchor="end" fill="#000" font-weight="normal" >10</text>
<text transform="translate(473.30,558.60) scale(1.09,1)" font-size="7.94" text-anchor="start" fill="#000" font-weight="normal" >−2</text>
<text transform="translate(473.00,606.40) scale(1.09,1)" font-size="10.45" text-anchor="end" fill="#000" font-weight="normal" >10</text>
<text transform="translate(473.30,602.60) scale(1.09,1)" font-size="7.94" text-anchor="start" fill="#000" font-weight="normal" >−3</text>
<line x1="621.50" y1="518.30" x2="625.00" y2="518.30" stroke="#000" stroke-width="0.9" />
<text transform="translate(629.20,522.40) scale(1.09,1)" font-size="10.45" text-anchor="start" fill="#e6550d" font-weight="normal" >10</text>
<text transform="translate(641.20,519.20) scale(1.09,1)" font-size="7.94" text-anchor="start" fill="#e6550d" font-weight="normal" >4</text>
<line x1="621.50" y1="567.90" x2="625.00" y2="567.90" stroke="#000" stroke-width="0.9" />
<text transform="translate(629.20,572.00) scale(1.09,1)" font-size="10.45" text-anchor="start" fill="#e6550d" font-weight="normal" >10</text>
<text transform="translate(641.20,568.80) scale(1.09,1)" font-size="7.94" text-anchor="start" fill="#e6550d" font-weight="normal" >2</text>
<line x1="491.50" y1="606.20" x2="491.50" y2="609.70" stroke="#000" stroke-width="0.9" />
<text transform="translate(491.50,620.70) scale(1.09,1)" font-size="10.45" text-anchor="middle" fill="#000" font-weight="normal" >0</text>
<line x1="534.83" y1="606.20" x2="534.83" y2="609.70" stroke="#000" stroke-width="0.9" />
<text transform="translate(534.83,620.70) scale(1.09,1)" font-size="10.45" text-anchor="middle" fill="#000" font-weight="normal" >1</text>
<line x1="578.17" y1="606.20" x2="578.17" y2="609.70" stroke="#000" stroke-width="0.9" />
<text transform="translate(578.17,620.70) scale(1.09,1)" font-size="10.45" text-anchor="middle" fill="#000" font-weight="normal" >2</text>
<line x1="621.50" y1="606.20" x2="621.50" y2="609.70" stroke="#000" stroke-width="0.9" />
<text transform="translate(621.50,620.70) scale(1.09,1)" font-size="10.45" text-anchor="middle" fill="#000" font-weight="normal" >3</text>
<text transform="translate(556.40,636.70) scale(1.09,1)" font-size="12.54" text-anchor="middle" fill="#000" font-weight="normal" >time from stimulus (s)</text>
<text transform="translate(453.50,561.30) rotate(-90) scale(1.09,1)" font-size="12.54" text-anchor="middle" fill="#000" font-weight="normal" >SNR(RNN)</text>
<text transform="translate(659.80,561.20) rotate(-90) scale(1.09,1)" font-size="12.54" text-anchor="middle" fill="#000" font-weight="normal" ># GCs to decode</text>
<text transform="translate(674.50,561.20) rotate(-90) scale(1.09,1)" font-size="12.54" text-anchor="middle" fill="#000" font-weight="normal" >stimulus</text>
</svg></body></html>
